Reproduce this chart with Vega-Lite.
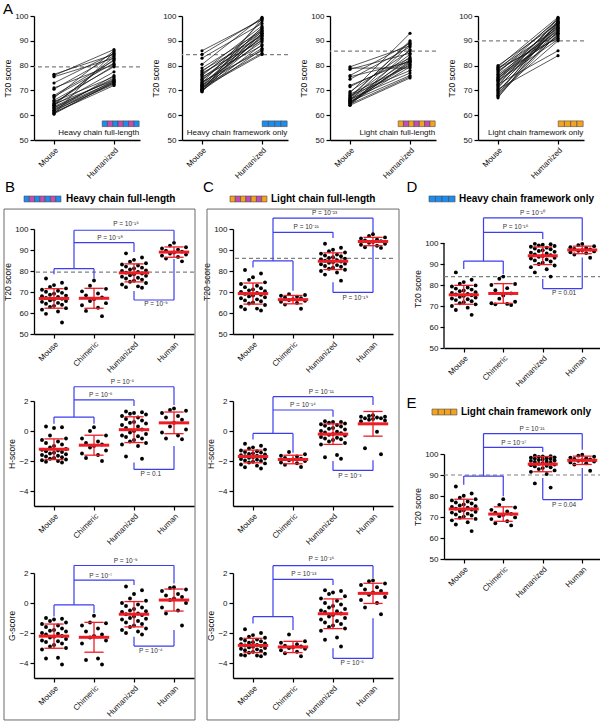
{
"$schema":"https://vega.github.io/schema/vega-lite/v6.json",
"padding":{"left":2,"top":2,"right":0,"bottom":0},
"background":"white",
"datasets":{
"ref":[{"p":"A1","y":79.5},{"p":"A2","y":84.4},{"p":"A3","y":85.8},{"p":"A4","y":90},{"p":"B1","y":79.5},{"p":"C1","y":86},{"p":"D","y":84},{"p":"E","y":90}],
"ico":[{"c":"HF","i":0,"k":"HFR"},{"c":"HF","i":1,"k":"CDR"},{"c":"HF","i":2,"k":"HFR"},{"c":"HF","i":3,"k":"CDR"},{"c":"HF","i":4,"k":"HFR"},{"c":"HF","i":5,"k":"CDR"},{"c":"HF","i":6,"k":"HFR"},
{"c":"LF","i":0,"k":"LFR"},{"c":"LF","i":1,"k":"CDR"},{"c":"LF","i":2,"k":"LFR"},{"c":"LF","i":3,"k":"CDR"},{"c":"LF","i":4,"k":"LFR"},{"c":"LF","i":5,"k":"CDR"},{"c":"LF","i":6,"k":"LFR"},
{"c":"HO","i":0,"k":"HFR"},{"c":"HO","i":1,"k":"HFR"},{"c":"HO","i":2,"k":"HFR"},{"c":"HO","i":3,"k":"HFR"},
{"c":"LO","i":0,"k":"LFR"},{"c":"LO","i":1,"k":"LFR"},{"c":"LO","i":2,"k":"LFR"},{"c":"LO","i":3,"k":"LFR"}],
"br":[
{"p":"B1","x":1,"x2":2,"y":81.1,"y2":81.1},{"p":"B1","x":1,"x2":1,"y":81.1,"y2":78.4},{"p":"B1","x":2,"x2":2,"y":81.1,"y2":76.5},{"p":"B1","x":1.5,"x2":1.5,"y":81.1,"y2":99.4},{"p":"B1","x":1.5,"x2":3,"y":93.5,"y2":93.5},{"p":"B1","x":3,"x2":3,"y":93.5,"y2":89},{"p":"B1","x":1.5,"x2":4,"y":99.4,"y2":99.4},{"p":"B1","x":4,"x2":4,"y":99.4,"y2":94.3},{"p":"B1","x":3,"x2":4,"y":66.2,"y2":66.2},{"p":"B1","x":3,"x2":3,"y":66.2,"y2":70.5},{"p":"B1","x":4,"x2":4,"y":66.2,"y2":85.7},
{"p":"B2","x":1,"x2":2,"y":0.93,"y2":0.93},{"p":"B2","x":1,"x2":1,"y":0.93,"y2":0.49},{"p":"B2","x":2,"x2":2,"y":0.93,"y2":0.49},{"p":"B2","x":1.5,"x2":1.5,"y":0.93,"y2":2.95},{"p":"B2","x":1.5,"x2":3,"y":2.07,"y2":2.07},{"p":"B2","x":3,"x2":3,"y":2.07,"y2":1.67},{"p":"B2","x":1.5,"x2":4,"y":2.95,"y2":2.95},{"p":"B2","x":4,"x2":4,"y":2.95,"y2":1.73},{"p":"B2","x":3,"x2":4,"y":-2.56,"y2":-2.56},{"p":"B2","x":3,"x2":3,"y":-2.56,"y2":-2.1},{"p":"B2","x":4,"x2":4,"y":-2.56,"y2":-1.0},
{"p":"B3","x":1,"x2":2,"y":-0.13,"y2":-0.13},{"p":"B3","x":1,"x2":1,"y":-0.13,"y2":-0.9},{"p":"B3","x":2,"x2":2,"y":-0.13,"y2":-0.67},{"p":"B3","x":1.5,"x2":1.5,"y":-0.13,"y2":2.5},{"p":"B3","x":1.5,"x2":3,"y":1.53,"y2":1.53},{"p":"B3","x":3,"x2":3,"y":1.53,"y2":1.2},{"p":"B3","x":1.5,"x2":4,"y":2.5,"y2":2.5},{"p":"B3","x":4,"x2":4,"y":2.5,"y2":1.3},{"p":"B3","x":3,"x2":4,"y":-2.87,"y2":-2.87},{"p":"B3","x":3,"x2":3,"y":-2.87,"y2":-2.25},{"p":"B3","x":4,"x2":4,"y":-2.87,"y2":-1.8},
{"p":"C1","x":1,"x2":2,"y":84.8,"y2":84.8},{"p":"C1","x":1,"x2":1,"y":84.8,"y2":81.7},{"p":"C1","x":2,"x2":2,"y":84.8,"y2":70.6},{"p":"C1","x":1.5,"x2":1.5,"y":84.8,"y2":105.2},{"p":"C1","x":1.5,"x2":3,"y":98.4,"y2":98.4},{"p":"C1","x":3,"x2":3,"y":98.4,"y2":95.7},{"p":"C1","x":1.5,"x2":4,"y":105.2,"y2":105.2},{"p":"C1","x":4,"x2":4,"y":105.2,"y2":96.8},{"p":"C1","x":3,"x2":4,"y":69.8,"y2":69.8},{"p":"C1","x":3,"x2":3,"y":69.8,"y2":74.6},{"p":"C1","x":4,"x2":4,"y":69.8,"y2":92},
{"p":"C2","x":1,"x2":2,"y":-0.16,"y2":-0.16},{"p":"C2","x":1,"x2":1,"y":-0.16,"y2":-0.56},{"p":"C2","x":2,"x2":2,"y":-0.16,"y2":-1.45},{"p":"C2","x":1.5,"x2":1.5,"y":-0.16,"y2":2.29},{"p":"C2","x":1.5,"x2":3,"y":1.4,"y2":1.4},{"p":"C2","x":3,"x2":3,"y":1.4,"y2":0.95},{"p":"C2","x":1.5,"x2":4,"y":2.29,"y2":2.29},{"p":"C2","x":4,"x2":4,"y":2.29,"y2":1.73},{"p":"C2","x":3,"x2":4,"y":-2.63,"y2":-2.63},{"p":"C2","x":3,"x2":3,"y":-2.63,"y2":-2.0},{"p":"C2","x":4,"x2":4,"y":-2.63,"y2":-1.95},
{"p":"C3","x":1,"x2":2,"y":-0.91,"y2":-0.91},{"p":"C3","x":1,"x2":1,"y":-0.91,"y2":-1.36},{"p":"C3","x":2,"x2":2,"y":-0.91,"y2":-1.8},{"p":"C3","x":1.5,"x2":1.5,"y":-0.91,"y2":2.49},{"p":"C3","x":1.5,"x2":3,"y":1.58,"y2":1.58},{"p":"C3","x":3,"x2":3,"y":1.58,"y2":1.2},{"p":"C3","x":1.5,"x2":4,"y":2.49,"y2":2.49},{"p":"C3","x":4,"x2":4,"y":2.49,"y2":1.65},{"p":"C3","x":3,"x2":4,"y":-3.69,"y2":-3.69},{"p":"C3","x":3,"x2":3,"y":-3.69,"y2":-3.02},{"p":"C3","x":4,"x2":4,"y":-3.69,"y2":-1.02},
{"p":"D","x":1,"x2":2,"y":91.4,"y2":91.4},{"p":"D","x":1,"x2":1,"y":91.4,"y2":87.6},{"p":"D","x":2,"x2":2,"y":91.4,"y2":85.2},{"p":"D","x":1.5,"x2":1.5,"y":91.4,"y2":112},{"p":"D","x":1.5,"x2":3,"y":105.1,"y2":105.1},{"p":"D","x":3,"x2":3,"y":105.1,"y2":101.9},{"p":"D","x":1.5,"x2":4,"y":112,"y2":112},{"p":"D","x":4,"x2":4,"y":112,"y2":101.1},{"p":"D","x":3,"x2":4,"y":78.3,"y2":78.3},{"p":"D","x":3,"x2":3,"y":78.3,"y2":82.8},{"p":"D","x":4,"x2":4,"y":78.3,"y2":93.1},
{"p":"E","x":1,"x2":2,"y":89.5,"y2":89.5},{"p":"E","x":1,"x2":1,"y":89.5,"y2":85.4},{"p":"E","x":2,"x2":2,"y":89.5,"y2":79.9},{"p":"E","x":1.5,"x2":1.5,"y":89.5,"y2":109.7},{"p":"E","x":1.5,"x2":3,"y":103.2,"y2":103.2},{"p":"E","x":3,"x2":3,"y":103.2,"y2":101},{"p":"E","x":1.5,"x2":4,"y":109.7,"y2":109.7},{"p":"E","x":4,"x2":4,"y":109.7,"y2":102},{"p":"E","x":3,"x2":4,"y":78.3,"y2":78.3},{"p":"E","x":3,"x2":3,"y":78.3,"y2":88.6},{"p":"E","x":4,"x2":4,"y":78.3,"y2":93.3}],
"pl":[
{"p":"B1","x":2.4,"y":95.6,"t":"P = 10⁻¹⁸"},{"p":"B1","x":2.8,"y":102.2,"t":"P = 10⁻¹⁵"},{"p":"B1","x":3.55,"y":64.1,"t":"P = 10⁻⁹"},
{"p":"B2","x":2.17,"y":2.4,"t":"P = 10⁻⁵"},{"p":"B2","x":2.71,"y":3.29,"t":"P = 10⁻⁶"},{"p":"B2","x":3.42,"y":-2.89,"t":"P = 0.1"},
{"p":"B3","x":2.17,"y":1.8,"t":"P = 10⁻⁷"},{"p":"B3","x":2.79,"y":2.8,"t":"P = 10⁻⁹"},{"p":"B3","x":3.42,"y":-3.2,"t":"P = 10⁻⁴"},
{"p":"C1","x":2.33,"y":101.1,"t":"P = 10⁻²¹"},{"p":"C1","x":2.79,"y":107.4,"t":"P = 10⁻²³"},{"p":"C1","x":3.56,"y":67.1,"t":"P = 10⁻¹⁹"},
{"p":"C2","x":2.25,"y":1.73,"t":"P = 10⁻¹⁴"},{"p":"C2","x":2.71,"y":2.62,"t":"P = 10⁻¹¹"},{"p":"C2","x":3.42,"y":-3.0,"t":"P = 10⁻³"},
{"p":"C3","x":2.27,"y":1.91,"t":"P = 10⁻¹³"},{"p":"C3","x":2.71,"y":2.91,"t":"P = 10⁻¹⁶"},{"p":"C3","x":3.48,"y":-4.02,"t":"P = 10⁻⁵"},
{"p":"D","x":2.31,"y":107.5,"t":"P = 10⁻¹⁶"},{"p":"D","x":2.74,"y":114.2,"t":"P = 10⁻¹⁰"},{"p":"D","x":3.54,"y":76.1,"t":"P = 0.01"},
{"p":"E","x":2.27,"y":105.2,"t":"P = 10⁻²⁷"},{"p":"E","x":2.73,"y":111.9,"t":"P = 10⁻²¹"},{"p":"E","x":3.54,"y":75.9,"t":"P = 0.04"}],
"pairs":[
{"p":"A1","id":1,"g":"Mouse","v":76.5},{"p":"A1","id":1,"g":"Humanized","v":84.5},
{"p":"A1","id":2,"g":"Mouse","v":76},{"p":"A1","id":2,"g":"Humanized","v":86.5},
{"p":"A1","id":3,"g":"Mouse","v":75.5},{"p":"A1","id":3,"g":"Humanized","v":83},
{"p":"A1","id":4,"g":"Mouse","v":73},{"p":"A1","id":4,"g":"Humanized","v":85},
{"p":"A1","id":5,"g":"Mouse","v":71},{"p":"A1","id":5,"g":"Humanized","v":80.5},
{"p":"A1","id":6,"g":"Mouse","v":70.5},{"p":"A1","id":6,"g":"Humanized","v":84},
{"p":"A1","id":7,"g":"Mouse","v":68},{"p":"A1","id":7,"g":"Humanized","v":82},
{"p":"A1","id":8,"g":"Mouse","v":67.5},{"p":"A1","id":8,"g":"Humanized","v":81},
{"p":"A1","id":9,"g":"Mouse","v":67},{"p":"A1","id":9,"g":"Humanized","v":86},
{"p":"A1","id":10,"g":"Mouse","v":66},{"p":"A1","id":10,"g":"Humanized","v":79.5},
{"p":"A1","id":11,"g":"Mouse","v":65.5},{"p":"A1","id":11,"g":"Humanized","v":75.5},
{"p":"A1","id":12,"g":"Mouse","v":65},{"p":"A1","id":12,"g":"Humanized","v":80},
{"p":"A1","id":13,"g":"Mouse","v":64.5},{"p":"A1","id":13,"g":"Humanized","v":74},
{"p":"A1","id":14,"g":"Mouse","v":64},{"p":"A1","id":14,"g":"Humanized","v":83.5},
{"p":"A1","id":15,"g":"Mouse","v":64},{"p":"A1","id":15,"g":"Humanized","v":77.5},
{"p":"A1","id":16,"g":"Mouse","v":63.5},{"p":"A1","id":16,"g":"Humanized","v":74.5},
{"p":"A1","id":17,"g":"Mouse","v":63},{"p":"A1","id":17,"g":"Humanized","v":73.5},
{"p":"A1","id":18,"g":"Mouse","v":63},{"p":"A1","id":18,"g":"Humanized","v":75},
{"p":"A1","id":19,"g":"Mouse","v":62.5},{"p":"A1","id":19,"g":"Humanized","v":73},
{"p":"A1","id":20,"g":"Mouse","v":62},{"p":"A1","id":20,"g":"Humanized","v":76},
{"p":"A1","id":21,"g":"Mouse","v":62},{"p":"A1","id":21,"g":"Humanized","v":72.5},
{"p":"A1","id":22,"g":"Mouse","v":61.5},{"p":"A1","id":22,"g":"Humanized","v":74},
{"p":"A1","id":23,"g":"Mouse","v":61},{"p":"A1","id":23,"g":"Humanized","v":73},
{"p":"A1","id":24,"g":"Mouse","v":61},{"p":"A1","id":24,"g":"Humanized","v":72},
{"p":"A1","id":25,"g":"Mouse","v":60.5},{"p":"A1","id":25,"g":"Humanized","v":85.5},
{"p":"A1","id":26,"g":"Mouse","v":60.5},{"p":"A1","id":26,"g":"Humanized","v":73.5},
{"p":"A1","id":27,"g":"Mouse","v":64.5},{"p":"A1","id":27,"g":"Humanized","v":82.5},
{"p":"A2","id":1,"g":"Mouse","v":86},{"p":"A2","id":1,"g":"Humanized","v":98.5},
{"p":"A2","id":2,"g":"Mouse","v":84.5},{"p":"A2","id":2,"g":"Humanized","v":99},
{"p":"A2","id":3,"g":"Mouse","v":83},{"p":"A2","id":3,"g":"Humanized","v":97},
{"p":"A2","id":4,"g":"Mouse","v":80.5},{"p":"A2","id":4,"g":"Humanized","v":99.5},
{"p":"A2","id":5,"g":"Mouse","v":79},{"p":"A2","id":5,"g":"Humanized","v":94},
{"p":"A2","id":6,"g":"Mouse","v":78},{"p":"A2","id":6,"g":"Humanized","v":92},
{"p":"A2","id":7,"g":"Mouse","v":77.5},{"p":"A2","id":7,"g":"Humanized","v":96},
{"p":"A2","id":8,"g":"Mouse","v":77},{"p":"A2","id":8,"g":"Humanized","v":90},
{"p":"A2","id":9,"g":"Mouse","v":76.5},{"p":"A2","id":9,"g":"Humanized","v":93.5},
{"p":"A2","id":10,"g":"Mouse","v":76},{"p":"A2","id":10,"g":"Humanized","v":95},
{"p":"A2","id":11,"g":"Mouse","v":75.5},{"p":"A2","id":11,"g":"Humanized","v":88},
{"p":"A2","id":12,"g":"Mouse","v":75},{"p":"A2","id":12,"g":"Humanized","v":92.5},
{"p":"A2","id":13,"g":"Mouse","v":74.5},{"p":"A2","id":13,"g":"Humanized","v":91},
{"p":"A2","id":14,"g":"Mouse","v":74},{"p":"A2","id":14,"g":"Humanized","v":94.5},
{"p":"A2","id":15,"g":"Mouse","v":73.5},{"p":"A2","id":15,"g":"Humanized","v":86},
{"p":"A2","id":16,"g":"Mouse","v":73},{"p":"A2","id":16,"g":"Humanized","v":89.5},
{"p":"A2","id":17,"g":"Mouse","v":73},{"p":"A2","id":17,"g":"Humanized","v":98},
{"p":"A2","id":18,"g":"Mouse","v":72.5},{"p":"A2","id":18,"g":"Humanized","v":93},
{"p":"A2","id":19,"g":"Mouse","v":72},{"p":"A2","id":19,"g":"Humanized","v":87},
{"p":"A2","id":20,"g":"Mouse","v":72},{"p":"A2","id":20,"g":"Humanized","v":91.5},
{"p":"A2","id":21,"g":"Mouse","v":71.5},{"p":"A2","id":21,"g":"Humanized","v":85},
{"p":"A2","id":22,"g":"Mouse","v":71.5},{"p":"A2","id":22,"g":"Humanized","v":95.5},
{"p":"A2","id":23,"g":"Mouse","v":71},{"p":"A2","id":23,"g":"Humanized","v":92},
{"p":"A2","id":24,"g":"Mouse","v":71},{"p":"A2","id":24,"g":"Humanized","v":84.5},
{"p":"A2","id":25,"g":"Mouse","v":70.5},{"p":"A2","id":25,"g":"Humanized","v":90.5},
{"p":"A2","id":26,"g":"Mouse","v":70.5},{"p":"A2","id":26,"g":"Humanized","v":94},
{"p":"A2","id":27,"g":"Mouse","v":70},{"p":"A2","id":27,"g":"Humanized","v":88.5},
{"p":"A2","id":28,"g":"Mouse","v":70},{"p":"A2","id":28,"g":"Humanized","v":86.5},
{"p":"A2","id":29,"g":"Mouse","v":69.5},{"p":"A2","id":29,"g":"Humanized","v":99},
{"p":"A2","id":30,"g":"Mouse","v":69.5},{"p":"A2","id":30,"g":"Humanized","v":93},
{"p":"A3","id":1,"g":"Mouse","v":79.5},{"p":"A3","id":1,"g":"Humanized","v":88},
{"p":"A3","id":2,"g":"Mouse","v":79},{"p":"A3","id":2,"g":"Humanized","v":79},
{"p":"A3","id":3,"g":"Mouse","v":78.5},{"p":"A3","id":3,"g":"Humanized","v":85},
{"p":"A3","id":4,"g":"Mouse","v":76},{"p":"A3","id":4,"g":"Humanized","v":89},
{"p":"A3","id":5,"g":"Mouse","v":75.5},{"p":"A3","id":5,"g":"Humanized","v":81.5},
{"p":"A3","id":6,"g":"Mouse","v":74.5},{"p":"A3","id":6,"g":"Humanized","v":87.5},
{"p":"A3","id":7,"g":"Mouse","v":72},{"p":"A3","id":7,"g":"Humanized","v":82},
{"p":"A3","id":8,"g":"Mouse","v":71.5},{"p":"A3","id":8,"g":"Humanized","v":83},
{"p":"A3","id":9,"g":"Mouse","v":69.5},{"p":"A3","id":9,"g":"Humanized","v":86},
{"p":"A3","id":10,"g":"Mouse","v":69},{"p":"A3","id":10,"g":"Humanized","v":93},
{"p":"A3","id":11,"g":"Mouse","v":68.5},{"p":"A3","id":11,"g":"Humanized","v":80},
{"p":"A3","id":12,"g":"Mouse","v":68},{"p":"A3","id":12,"g":"Humanized","v":78},
{"p":"A3","id":13,"g":"Mouse","v":67.5},{"p":"A3","id":13,"g":"Humanized","v":89.5},
{"p":"A3","id":14,"g":"Mouse","v":67},{"p":"A3","id":14,"g":"Humanized","v":84.5},
{"p":"A3","id":15,"g":"Mouse","v":66.5},{"p":"A3","id":15,"g":"Humanized","v":82.5},
{"p":"A3","id":16,"g":"Mouse","v":66.5},{"p":"A3","id":16,"g":"Humanized","v":77},
{"p":"A3","id":17,"g":"Mouse","v":66},{"p":"A3","id":17,"g":"Humanized","v":81},
{"p":"A3","id":18,"g":"Mouse","v":66},{"p":"A3","id":18,"g":"Humanized","v":88.5},
{"p":"A3","id":19,"g":"Mouse","v":65.5},{"p":"A3","id":19,"g":"Humanized","v":76},
{"p":"A3","id":20,"g":"Mouse","v":65.5},{"p":"A3","id":20,"g":"Humanized","v":80.5},
{"p":"A3","id":21,"g":"Mouse","v":65},{"p":"A3","id":21,"g":"Humanized","v":83.5},
{"p":"A3","id":22,"g":"Mouse","v":65},{"p":"A3","id":22,"g":"Humanized","v":79.5},
{"p":"A3","id":23,"g":"Mouse","v":64.5},{"p":"A3","id":23,"g":"Humanized","v":75.5},
{"p":"A3","id":24,"g":"Mouse","v":64.5},{"p":"A3","id":24,"g":"Humanized","v":82},
{"p":"A3","id":25,"g":"Mouse","v":64},{"p":"A3","id":25,"g":"Humanized","v":75},
{"p":"A3","id":26,"g":"Mouse","v":64},{"p":"A3","id":26,"g":"Humanized","v":86.5},
{"p":"A3","id":27,"g":"Mouse","v":65},{"p":"A3","id":27,"g":"Humanized","v":81.5},
{"p":"A3","id":28,"g":"Mouse","v":67},{"p":"A3","id":28,"g":"Humanized","v":90},
{"p":"A4","id":1,"g":"Mouse","v":80},{"p":"A4","id":1,"g":"Humanized","v":97},
{"p":"A4","id":2,"g":"Mouse","v":79.5},{"p":"A4","id":2,"g":"Humanized","v":99.5},
{"p":"A4","id":3,"g":"Mouse","v":79},{"p":"A4","id":3,"g":"Humanized","v":95},
{"p":"A4","id":4,"g":"Mouse","v":78.5},{"p":"A4","id":4,"g":"Humanized","v":98.5},
{"p":"A4","id":5,"g":"Mouse","v":78},{"p":"A4","id":5,"g":"Humanized","v":93},
{"p":"A4","id":6,"g":"Mouse","v":77.5},{"p":"A4","id":6,"g":"Humanized","v":96},
{"p":"A4","id":7,"g":"Mouse","v":77},{"p":"A4","id":7,"g":"Humanized","v":99},
{"p":"A4","id":8,"g":"Mouse","v":76.5},{"p":"A4","id":8,"g":"Humanized","v":94},
{"p":"A4","id":9,"g":"Mouse","v":76},{"p":"A4","id":9,"g":"Humanized","v":91.5},
{"p":"A4","id":10,"g":"Mouse","v":75.5},{"p":"A4","id":10,"g":"Humanized","v":97.5},
{"p":"A4","id":11,"g":"Mouse","v":75},{"p":"A4","id":11,"g":"Humanized","v":95.5},
{"p":"A4","id":12,"g":"Mouse","v":75},{"p":"A4","id":12,"g":"Humanized","v":92},
{"p":"A4","id":13,"g":"Mouse","v":74.5},{"p":"A4","id":13,"g":"Humanized","v":98},
{"p":"A4","id":14,"g":"Mouse","v":74},{"p":"A4","id":14,"g":"Humanized","v":90.5},
{"p":"A4","id":15,"g":"Mouse","v":74},{"p":"A4","id":15,"g":"Humanized","v":96.5},
{"p":"A4","id":16,"g":"Mouse","v":73.5},{"p":"A4","id":16,"g":"Humanized","v":94.5},
{"p":"A4","id":17,"g":"Mouse","v":73},{"p":"A4","id":17,"g":"Humanized","v":93.5},
{"p":"A4","id":18,"g":"Mouse","v":72.5},{"p":"A4","id":18,"g":"Humanized","v":86},
{"p":"A4","id":19,"g":"Mouse","v":72},{"p":"A4","id":19,"g":"Humanized","v":99},
{"p":"A4","id":20,"g":"Mouse","v":71.5},{"p":"A4","id":20,"g":"Humanized","v":95},
{"p":"A4","id":21,"g":"Mouse","v":71},{"p":"A4","id":21,"g":"Humanized","v":97},
{"p":"A4","id":22,"g":"Mouse","v":70.5},{"p":"A4","id":22,"g":"Humanized","v":84},
{"p":"A4","id":23,"g":"Mouse","v":70},{"p":"A4","id":23,"g":"Humanized","v":92.5},
{"p":"A4","id":24,"g":"Mouse","v":69.5},{"p":"A4","id":24,"g":"Humanized","v":96},
{"p":"A4","id":25,"g":"Mouse","v":69},{"p":"A4","id":25,"g":"Humanized","v":90},
{"p":"A4","id":26,"g":"Mouse","v":68.5},{"p":"A4","id":26,"g":"Humanized","v":98},
{"p":"A4","id":27,"g":"Mouse","v":68},{"p":"A4","id":27,"g":"Humanized","v":94},
{"p":"A4","id":28,"g":"Mouse","v":67.5},{"p":"A4","id":28,"g":"Humanized","v":93},
{"p":"A4","id":29,"g":"Mouse","v":67},{"p":"A4","id":29,"g":"Humanized","v":97.5},
{"p":"A4","id":30,"g":"Mouse","v":79},{"p":"A4","id":30,"g":"Humanized","v":91}],
"pts":[
{"p":"B1","g":"Mouse","v":55.5},{"p":"B1","g":"Mouse","v":59.6},{"p":"B1","g":"Mouse","v":60.7},{"p":"B1","g":"Mouse","v":61.6},{"p":"B1","g":"Mouse","v":62.3},{"p":"B1","g":"Mouse","v":62.9},{"p":"B1","g":"Mouse","v":63.4},{"p":"B1","g":"Mouse","v":63.9},{"p":"B1","g":"Mouse","v":64.4},{"p":"B1","g":"Mouse","v":64.8},{"p":"B1","g":"Mouse","v":65.3},{"p":"B1","g":"Mouse","v":65.7},{"p":"B1","g":"Mouse","v":66.0},{"p":"B1","g":"Mouse","v":66.4},{"p":"B1","g":"Mouse","v":66.8},{"p":"B1","g":"Mouse","v":67.2},{"p":"B1","g":"Mouse","v":67.6},{"p":"B1","g":"Mouse","v":68.0},{"p":"B1","g":"Mouse","v":68.3},{"p":"B1","g":"Mouse","v":68.7},{"p":"B1","g":"Mouse","v":69.2},{"p":"B1","g":"Mouse","v":69.6},{"p":"B1","g":"Mouse","v":70.1},{"p":"B1","g":"Mouse","v":70.6},{"p":"B1","g":"Mouse","v":71.1},{"p":"B1","g":"Mouse","v":71.7},{"p":"B1","g":"Mouse","v":72.4},{"p":"B1","g":"Mouse","v":73.3},{"p":"B1","g":"Mouse","v":74.4},{"p":"B1","g":"Mouse","v":76.4},
{"p":"B1","g":"Chimeric","v":58.5},{"p":"B1","g":"Chimeric","v":61.0},{"p":"B1","g":"Chimeric","v":62.5},{"p":"B1","g":"Chimeric","v":63.7},{"p":"B1","g":"Chimeric","v":64.7},{"p":"B1","g":"Chimeric","v":65.7},{"p":"B1","g":"Chimeric","v":66.6},{"p":"B1","g":"Chimeric","v":67.4},{"p":"B1","g":"Chimeric","v":68.4},{"p":"B1","g":"Chimeric","v":69.3},{"p":"B1","g":"Chimeric","v":70.3},{"p":"B1","g":"Chimeric","v":71.5},{"p":"B1","g":"Chimeric","v":73.0},{"p":"B1","g":"Chimeric","v":75.5},
{"p":"B1","g":"Humanized","v":72.0},{"p":"B1","g":"Humanized","v":72.3},{"p":"B1","g":"Humanized","v":72.7},{"p":"B1","g":"Humanized","v":73.6},{"p":"B1","g":"Humanized","v":74.3},{"p":"B1","g":"Humanized","v":74.9},{"p":"B1","g":"Humanized","v":75.4},{"p":"B1","g":"Humanized","v":75.9},{"p":"B1","g":"Humanized","v":76.4},{"p":"B1","g":"Humanized","v":76.8},{"p":"B1","g":"Humanized","v":77.3},{"p":"B1","g":"Humanized","v":77.7},{"p":"B1","g":"Humanized","v":78.0},{"p":"B1","g":"Humanized","v":78.4},{"p":"B1","g":"Humanized","v":78.8},{"p":"B1","g":"Humanized","v":79.2},{"p":"B1","g":"Humanized","v":79.6},{"p":"B1","g":"Humanized","v":80.0},{"p":"B1","g":"Humanized","v":80.3},{"p":"B1","g":"Humanized","v":80.7},{"p":"B1","g":"Humanized","v":81.2},{"p":"B1","g":"Humanized","v":81.6},{"p":"B1","g":"Humanized","v":82.1},{"p":"B1","g":"Humanized","v":82.6},{"p":"B1","g":"Humanized","v":83.1},{"p":"B1","g":"Humanized","v":83.7},{"p":"B1","g":"Humanized","v":84.4},{"p":"B1","g":"Humanized","v":85.3},{"p":"B1","g":"Humanized","v":86.4},{"p":"B1","g":"Humanized","v":88.4},
{"p":"B1","g":"Human","v":84.6},{"p":"B1","g":"Human","v":85.9},{"p":"B1","g":"Human","v":86.7},{"p":"B1","g":"Human","v":87.3},{"p":"B1","g":"Human","v":87.8},{"p":"B1","g":"Human","v":88.3},{"p":"B1","g":"Human","v":88.8},{"p":"B1","g":"Human","v":89.2},{"p":"B1","g":"Human","v":89.7},{"p":"B1","g":"Human","v":90.2},{"p":"B1","g":"Human","v":90.7},{"p":"B1","g":"Human","v":91.3},{"p":"B1","g":"Human","v":92.1},{"p":"B1","g":"Human","v":93.4},
{"p":"B2","g":"Mouse","v":-2.1},{"p":"B2","g":"Mouse","v":-2.05},{"p":"B2","g":"Mouse","v":-2.0},{"p":"B2","g":"Mouse","v":-1.95},{"p":"B2","g":"Mouse","v":-1.9},{"p":"B2","g":"Mouse","v":-1.85},{"p":"B2","g":"Mouse","v":-1.8},{"p":"B2","g":"Mouse","v":-1.75},{"p":"B2","g":"Mouse","v":-1.7},{"p":"B2","g":"Mouse","v":-1.65},{"p":"B2","g":"Mouse","v":-1.6},{"p":"B2","g":"Mouse","v":-1.55},{"p":"B2","g":"Mouse","v":-1.5},{"p":"B2","g":"Mouse","v":-1.45},{"p":"B2","g":"Mouse","v":-1.4},{"p":"B2","g":"Mouse","v":-1.35},{"p":"B2","g":"Mouse","v":-1.3},{"p":"B2","g":"Mouse","v":-1.25},{"p":"B2","g":"Mouse","v":-1.2},{"p":"B2","g":"Mouse","v":-1.1},{"p":"B2","g":"Mouse","v":-1.0},{"p":"B2","g":"Mouse","v":-0.9},{"p":"B2","g":"Mouse","v":-0.8},{"p":"B2","g":"Mouse","v":-0.7},{"p":"B2","g":"Mouse","v":-0.6},{"p":"B2","g":"Mouse","v":-0.5},{"p":"B2","g":"Mouse","v":-0.3},{"p":"B2","g":"Mouse","v":0.2},{"p":"B2","g":"Mouse","v":0.25},{"p":"B2","g":"Mouse","v":0.3},
{"p":"B2","g":"Chimeric","v":0.25},{"p":"B2","g":"Chimeric","v":0},{"p":"B2","g":"Chimeric","v":-0.3},{"p":"B2","g":"Chimeric","v":-0.5},{"p":"B2","g":"Chimeric","v":-0.7},{"p":"B2","g":"Chimeric","v":-0.8},{"p":"B2","g":"Chimeric","v":-0.9},{"p":"B2","g":"Chimeric","v":-1.0},{"p":"B2","g":"Chimeric","v":-1.1},{"p":"B2","g":"Chimeric","v":-1.3},{"p":"B2","g":"Chimeric","v":-1.5},{"p":"B2","g":"Chimeric","v":-1.6},{"p":"B2","g":"Chimeric","v":-1.8},{"p":"B2","g":"Chimeric","v":-2.0},
{"p":"B2","g":"Humanized","v":1.3},{"p":"B2","g":"Humanized","v":1.25},{"p":"B2","g":"Humanized","v":1.2},{"p":"B2","g":"Humanized","v":1.15},{"p":"B2","g":"Humanized","v":1.1},{"p":"B2","g":"Humanized","v":1.0},{"p":"B2","g":"Humanized","v":0.9},{"p":"B2","g":"Humanized","v":0.8},{"p":"B2","g":"Humanized","v":0.7},{"p":"B2","g":"Humanized","v":0.6},{"p":"B2","g":"Humanized","v":0.55},{"p":"B2","g":"Humanized","v":0.5},{"p":"B2","g":"Humanized","v":0.4},{"p":"B2","g":"Humanized","v":0.3},{"p":"B2","g":"Humanized","v":0.2},{"p":"B2","g":"Humanized","v":0.1},{"p":"B2","g":"Humanized","v":0.0},{"p":"B2","g":"Humanized","v":-0.1},{"p":"B2","g":"Humanized","v":-0.2},{"p":"B2","g":"Humanized","v":-0.3},{"p":"B2","g":"Humanized","v":-0.35},{"p":"B2","g":"Humanized","v":-0.4},{"p":"B2","g":"Humanized","v":-0.5},{"p":"B2","g":"Humanized","v":-0.6},{"p":"B2","g":"Humanized","v":-0.7},{"p":"B2","g":"Humanized","v":-0.8},{"p":"B2","g":"Humanized","v":-0.9},{"p":"B2","g":"Humanized","v":-1.0},{"p":"B2","g":"Humanized","v":-1.7},{"p":"B2","g":"Humanized","v":-1.85},
{"p":"B2","g":"Human","v":1.5},{"p":"B2","g":"Human","v":1.4},{"p":"B2","g":"Human","v":1.35},{"p":"B2","g":"Human","v":1.2},{"p":"B2","g":"Human","v":1.0},{"p":"B2","g":"Human","v":0.9},{"p":"B2","g":"Human","v":0.75},{"p":"B2","g":"Human","v":0.55},{"p":"B2","g":"Human","v":0.3},{"p":"B2","g":"Human","v":0.1},{"p":"B2","g":"Human","v":-0.1},{"p":"B2","g":"Human","v":-0.3},{"p":"B2","g":"Human","v":-0.5},{"p":"B2","g":"Human","v":-0.55},
{"p":"B3","g":"Mouse","v":-1.0},{"p":"B3","g":"Mouse","v":-1.05},{"p":"B3","g":"Mouse","v":-1.1},{"p":"B3","g":"Mouse","v":-1.2},{"p":"B3","g":"Mouse","v":-1.3},{"p":"B3","g":"Mouse","v":-1.4},{"p":"B3","g":"Mouse","v":-1.5},{"p":"B3","g":"Mouse","v":-1.6},{"p":"B3","g":"Mouse","v":-1.7},{"p":"B3","g":"Mouse","v":-1.8},{"p":"B3","g":"Mouse","v":-1.85},{"p":"B3","g":"Mouse","v":-1.9},{"p":"B3","g":"Mouse","v":-2.0},{"p":"B3","g":"Mouse","v":-2.05},{"p":"B3","g":"Mouse","v":-2.1},{"p":"B3","g":"Mouse","v":-2.2},{"p":"B3","g":"Mouse","v":-2.25},{"p":"B3","g":"Mouse","v":-2.3},{"p":"B3","g":"Mouse","v":-2.4},{"p":"B3","g":"Mouse","v":-2.5},{"p":"B3","g":"Mouse","v":-2.55},{"p":"B3","g":"Mouse","v":-2.6},{"p":"B3","g":"Mouse","v":-2.7},{"p":"B3","g":"Mouse","v":-2.8},{"p":"B3","g":"Mouse","v":-2.9},{"p":"B3","g":"Mouse","v":-3.0},{"p":"B3","g":"Mouse","v":-3.1},{"p":"B3","g":"Mouse","v":-3.65},{"p":"B3","g":"Mouse","v":-3.7},{"p":"B3","g":"Mouse","v":-4.1},
{"p":"B3","g":"Chimeric","v":-0.85},{"p":"B3","g":"Chimeric","v":-1.3},{"p":"B3","g":"Chimeric","v":-1.35},{"p":"B3","g":"Chimeric","v":-1.5},{"p":"B3","g":"Chimeric","v":-1.7},{"p":"B3","g":"Chimeric","v":-1.9},{"p":"B3","g":"Chimeric","v":-2.1},{"p":"B3","g":"Chimeric","v":-2.2},{"p":"B3","g":"Chimeric","v":-2.3},{"p":"B3","g":"Chimeric","v":-2.5},{"p":"B3","g":"Chimeric","v":-2.7},{"p":"B3","g":"Chimeric","v":-3.7},{"p":"B3","g":"Chimeric","v":-3.8},{"p":"B3","g":"Chimeric","v":-4.1},
{"p":"B3","g":"Humanized","v":1.1},{"p":"B3","g":"Humanized","v":0.85},{"p":"B3","g":"Humanized","v":0.6},{"p":"B3","g":"Humanized","v":0.3},{"p":"B3","g":"Humanized","v":0.15},{"p":"B3","g":"Humanized","v":0.0},{"p":"B3","g":"Humanized","v":-0.1},{"p":"B3","g":"Humanized","v":-0.2},{"p":"B3","g":"Humanized","v":-0.3},{"p":"B3","g":"Humanized","v":-0.4},{"p":"B3","g":"Humanized","v":-0.5},{"p":"B3","g":"Humanized","v":-0.55},{"p":"B3","g":"Humanized","v":-0.6},{"p":"B3","g":"Humanized","v":-0.7},{"p":"B3","g":"Humanized","v":-0.75},{"p":"B3","g":"Humanized","v":-0.8},{"p":"B3","g":"Humanized","v":-0.9},{"p":"B3","g":"Humanized","v":-1.0},{"p":"B3","g":"Humanized","v":-1.05},{"p":"B3","g":"Humanized","v":-1.1},{"p":"B3","g":"Humanized","v":-1.2},{"p":"B3","g":"Humanized","v":-1.3},{"p":"B3","g":"Humanized","v":-1.4},{"p":"B3","g":"Humanized","v":-1.5},{"p":"B3","g":"Humanized","v":-1.6},{"p":"B3","g":"Humanized","v":-1.7},{"p":"B3","g":"Humanized","v":-1.8},{"p":"B3","g":"Humanized","v":-1.9},{"p":"B3","g":"Humanized","v":-2.0},{"p":"B3","g":"Humanized","v":-2.1},
{"p":"B3","g":"Human","v":1.05},{"p":"B3","g":"Human","v":1.0},{"p":"B3","g":"Human","v":0.9},{"p":"B3","g":"Human","v":0.8},{"p":"B3","g":"Human","v":0.6},{"p":"B3","g":"Human","v":0.5},{"p":"B3","g":"Human","v":0.4},{"p":"B3","g":"Human","v":0.3},{"p":"B3","g":"Human","v":0.2},{"p":"B3","g":"Human","v":0.0},{"p":"B3","g":"Human","v":-0.3},{"p":"B3","g":"Human","v":-0.5},{"p":"B3","g":"Human","v":-0.7},{"p":"B3","g":"Human","v":-1.5},
{"p":"C1","g":"Mouse","v":61.2},{"p":"C1","g":"Mouse","v":61.8},{"p":"C1","g":"Mouse","v":62.1},{"p":"C1","g":"Mouse","v":63.0},{"p":"C1","g":"Mouse","v":63.8},{"p":"C1","g":"Mouse","v":64.5},{"p":"C1","g":"Mouse","v":65.0},{"p":"C1","g":"Mouse","v":65.6},{"p":"C1","g":"Mouse","v":66.0},{"p":"C1","g":"Mouse","v":66.5},{"p":"C1","g":"Mouse","v":67.0},{"p":"C1","g":"Mouse","v":67.5},{"p":"C1","g":"Mouse","v":67.9},{"p":"C1","g":"Mouse","v":68.3},{"p":"C1","g":"Mouse","v":68.7},{"p":"C1","g":"Mouse","v":69.1},{"p":"C1","g":"Mouse","v":69.5},{"p":"C1","g":"Mouse","v":70.0},{"p":"C1","g":"Mouse","v":70.4},{"p":"C1","g":"Mouse","v":70.8},{"p":"C1","g":"Mouse","v":71.2},{"p":"C1","g":"Mouse","v":71.8},{"p":"C1","g":"Mouse","v":72.3},{"p":"C1","g":"Mouse","v":73.0},{"p":"C1","g":"Mouse","v":73.8},{"p":"C1","g":"Mouse","v":74.6},{"p":"C1","g":"Mouse","v":75.8},{"p":"C1","g":"Mouse","v":77.0},{"p":"C1","g":"Mouse","v":78.8},{"p":"C1","g":"Mouse","v":80.5},
{"p":"C1","g":"Chimeric","v":62.0},{"p":"C1","g":"Chimeric","v":64.0},{"p":"C1","g":"Chimeric","v":64.8},{"p":"C1","g":"Chimeric","v":65.3},{"p":"C1","g":"Chimeric","v":65.8},{"p":"C1","g":"Chimeric","v":66.2},{"p":"C1","g":"Chimeric","v":66.6},{"p":"C1","g":"Chimeric","v":67.0},{"p":"C1","g":"Chimeric","v":67.4},{"p":"C1","g":"Chimeric","v":67.8},{"p":"C1","g":"Chimeric","v":68.2},{"p":"C1","g":"Chimeric","v":68.6},{"p":"C1","g":"Chimeric","v":69.0},
{"p":"C1","g":"Humanized","v":75.4},{"p":"C1","g":"Humanized","v":78.3},{"p":"C1","g":"Humanized","v":79.3},{"p":"C1","g":"Humanized","v":80.0},{"p":"C1","g":"Humanized","v":80.6},{"p":"C1","g":"Humanized","v":81.1},{"p":"C1","g":"Humanized","v":81.6},{"p":"C1","g":"Humanized","v":82.0},{"p":"C1","g":"Humanized","v":82.4},{"p":"C1","g":"Humanized","v":82.8},{"p":"C1","g":"Humanized","v":83.2},{"p":"C1","g":"Humanized","v":83.5},{"p":"C1","g":"Humanized","v":83.9},{"p":"C1","g":"Humanized","v":84.2},{"p":"C1","g":"Humanized","v":84.5},{"p":"C1","g":"Humanized","v":84.9},{"p":"C1","g":"Humanized","v":85.2},{"p":"C1","g":"Humanized","v":85.5},{"p":"C1","g":"Humanized","v":85.9},{"p":"C1","g":"Humanized","v":86.2},{"p":"C1","g":"Humanized","v":86.6},{"p":"C1","g":"Humanized","v":87.0},{"p":"C1","g":"Humanized","v":87.4},{"p":"C1","g":"Humanized","v":87.8},{"p":"C1","g":"Humanized","v":88.3},{"p":"C1","g":"Humanized","v":88.8},{"p":"C1","g":"Humanized","v":89.4},{"p":"C1","g":"Humanized","v":90.1},{"p":"C1","g":"Humanized","v":91.1},{"p":"C1","g":"Humanized","v":93.0},
{"p":"C1","g":"Human","v":91.0},{"p":"C1","g":"Human","v":91.3},{"p":"C1","g":"Human","v":92.0},{"p":"C1","g":"Human","v":92.5},{"p":"C1","g":"Human","v":93.0},{"p":"C1","g":"Human","v":93.4},{"p":"C1","g":"Human","v":93.8},{"p":"C1","g":"Human","v":94.2},{"p":"C1","g":"Human","v":94.6},{"p":"C1","g":"Human","v":95.0},{"p":"C1","g":"Human","v":95.5},{"p":"C1","g":"Human","v":96.0},{"p":"C1","g":"Human","v":96.7},{"p":"C1","g":"Human","v":97.5},
{"p":"C2","g":"Mouse","v":-2.5},{"p":"C2","g":"Mouse","v":-2.42},{"p":"C2","g":"Mouse","v":-2.31},{"p":"C2","g":"Mouse","v":-2.23},{"p":"C2","g":"Mouse","v":-2.16},{"p":"C2","g":"Mouse","v":-2.1},{"p":"C2","g":"Mouse","v":-2.05},{"p":"C2","g":"Mouse","v":-2.0},{"p":"C2","g":"Mouse","v":-1.96},{"p":"C2","g":"Mouse","v":-1.91},{"p":"C2","g":"Mouse","v":-1.87},{"p":"C2","g":"Mouse","v":-1.83},{"p":"C2","g":"Mouse","v":-1.79},{"p":"C2","g":"Mouse","v":-1.75},{"p":"C2","g":"Mouse","v":-1.72},{"p":"C2","g":"Mouse","v":-1.68},{"p":"C2","g":"Mouse","v":-1.65},{"p":"C2","g":"Mouse","v":-1.61},{"p":"C2","g":"Mouse","v":-1.57},{"p":"C2","g":"Mouse","v":-1.53},{"p":"C2","g":"Mouse","v":-1.49},{"p":"C2","g":"Mouse","v":-1.44},{"p":"C2","g":"Mouse","v":-1.4},{"p":"C2","g":"Mouse","v":-1.35},{"p":"C2","g":"Mouse","v":-1.3},{"p":"C2","g":"Mouse","v":-1.24},{"p":"C2","g":"Mouse","v":-1.17},{"p":"C2","g":"Mouse","v":-1.09},{"p":"C2","g":"Mouse","v":-0.98},{"p":"C2","g":"Mouse","v":-0.85},
{"p":"C2","g":"Chimeric","v":-2.4},{"p":"C2","g":"Chimeric","v":-2.25},{"p":"C2","g":"Chimeric","v":-2.15},{"p":"C2","g":"Chimeric","v":-2.1},{"p":"C2","g":"Chimeric","v":-2.0},{"p":"C2","g":"Chimeric","v":-1.95},{"p":"C2","g":"Chimeric","v":-1.9},{"p":"C2","g":"Chimeric","v":-1.85},{"p":"C2","g":"Chimeric","v":-1.8},{"p":"C2","g":"Chimeric","v":-1.7},{"p":"C2","g":"Chimeric","v":-1.65},{"p":"C2","g":"Chimeric","v":-1.55},{"p":"C2","g":"Chimeric","v":-1.4},
{"p":"C2","g":"Humanized","v":0.65},{"p":"C2","g":"Humanized","v":0.6},{"p":"C2","g":"Humanized","v":0.6},{"p":"C2","g":"Humanized","v":0.55},{"p":"C2","g":"Humanized","v":0.5},{"p":"C2","g":"Humanized","v":0.45},{"p":"C2","g":"Humanized","v":0.4},{"p":"C2","g":"Humanized","v":0.35},{"p":"C2","g":"Humanized","v":0.3},{"p":"C2","g":"Humanized","v":0.2},{"p":"C2","g":"Humanized","v":0.15},{"p":"C2","g":"Humanized","v":0.1},{"p":"C2","g":"Humanized","v":0.0},{"p":"C2","g":"Humanized","v":-0.05},{"p":"C2","g":"Humanized","v":-0.1},{"p":"C2","g":"Humanized","v":-0.15},{"p":"C2","g":"Humanized","v":-0.2},{"p":"C2","g":"Humanized","v":-0.25},{"p":"C2","g":"Humanized","v":-0.3},{"p":"C2","g":"Humanized","v":-0.4},{"p":"C2","g":"Humanized","v":-0.45},{"p":"C2","g":"Humanized","v":-0.5},{"p":"C2","g":"Humanized","v":-0.55},{"p":"C2","g":"Humanized","v":-0.6},{"p":"C2","g":"Humanized","v":-0.7},{"p":"C2","g":"Humanized","v":-0.8},{"p":"C2","g":"Humanized","v":-0.9},{"p":"C2","g":"Humanized","v":-1.6},{"p":"C2","g":"Humanized","v":-1.75},{"p":"C2","g":"Humanized","v":-1.85},
{"p":"C2","g":"Human","v":1.05},{"p":"C2","g":"Human","v":1.0},{"p":"C2","g":"Human","v":0.95},{"p":"C2","g":"Human","v":0.95},{"p":"C2","g":"Human","v":0.9},{"p":"C2","g":"Human","v":0.85},{"p":"C2","g":"Human","v":0.85},{"p":"C2","g":"Human","v":0.8},{"p":"C2","g":"Human","v":0.75},{"p":"C2","g":"Human","v":0.7},{"p":"C2","g":"Human","v":0.65},{"p":"C2","g":"Human","v":-0.05},{"p":"C2","g":"Human","v":-1.15},{"p":"C2","g":"Human","v":-1.55},
{"p":"C3","g":"Mouse","v":-3.55},{"p":"C3","g":"Mouse","v":-3.5},{"p":"C3","g":"Mouse","v":-3.5},{"p":"C3","g":"Mouse","v":-3.46},{"p":"C3","g":"Mouse","v":-3.38},{"p":"C3","g":"Mouse","v":-3.31},{"p":"C3","g":"Mouse","v":-3.26},{"p":"C3","g":"Mouse","v":-3.2},{"p":"C3","g":"Mouse","v":-3.15},{"p":"C3","g":"Mouse","v":-3.09},{"p":"C3","g":"Mouse","v":-3.05},{"p":"C3","g":"Mouse","v":-3.0},{"p":"C3","g":"Mouse","v":-2.96},{"p":"C3","g":"Mouse","v":-2.91},{"p":"C3","g":"Mouse","v":-2.87},{"p":"C3","g":"Mouse","v":-2.83},{"p":"C3","g":"Mouse","v":-2.79},{"p":"C3","g":"Mouse","v":-2.74},{"p":"C3","g":"Mouse","v":-2.7},{"p":"C3","g":"Mouse","v":-2.65},{"p":"C3","g":"Mouse","v":-2.61},{"p":"C3","g":"Mouse","v":-2.55},{"p":"C3","g":"Mouse","v":-2.5},{"p":"C3","g":"Mouse","v":-2.44},{"p":"C3","g":"Mouse","v":-2.39},{"p":"C3","g":"Mouse","v":-2.32},{"p":"C3","g":"Mouse","v":-2.24},{"p":"C3","g":"Mouse","v":-2.14},{"p":"C3","g":"Mouse","v":-2.0},{"p":"C3","g":"Mouse","v":-1.75},
{"p":"C3","g":"Chimeric","v":-3.55},{"p":"C3","g":"Chimeric","v":-3.35},{"p":"C3","g":"Chimeric","v":-3.25},{"p":"C3","g":"Chimeric","v":-3.15},{"p":"C3","g":"Chimeric","v":-3.05},{"p":"C3","g":"Chimeric","v":-3.0},{"p":"C3","g":"Chimeric","v":-2.95},{"p":"C3","g":"Chimeric","v":-2.9},{"p":"C3","g":"Chimeric","v":-2.85},{"p":"C3","g":"Chimeric","v":-2.75},{"p":"C3","g":"Chimeric","v":-2.65},{"p":"C3","g":"Chimeric","v":-2.55},{"p":"C3","g":"Chimeric","v":-2.1},
{"p":"C3","g":"Humanized","v":0.85},{"p":"C3","g":"Humanized","v":0.8},{"p":"C3","g":"Humanized","v":0.7},{"p":"C3","g":"Humanized","v":0.6},{"p":"C3","g":"Humanized","v":0.45},{"p":"C3","g":"Humanized","v":0.3},{"p":"C3","g":"Humanized","v":0.15},{"p":"C3","g":"Humanized","v":0.0},{"p":"C3","g":"Humanized","v":-0.1},{"p":"C3","g":"Humanized","v":-0.2},{"p":"C3","g":"Humanized","v":-0.3},{"p":"C3","g":"Humanized","v":-0.4},{"p":"C3","g":"Humanized","v":-0.5},{"p":"C3","g":"Humanized","v":-0.55},{"p":"C3","g":"Humanized","v":-0.6},{"p":"C3","g":"Humanized","v":-0.7},{"p":"C3","g":"Humanized","v":-0.8},{"p":"C3","g":"Humanized","v":-0.9},{"p":"C3","g":"Humanized","v":-1.0},{"p":"C3","g":"Humanized","v":-1.1},{"p":"C3","g":"Humanized","v":-1.2},{"p":"C3","g":"Humanized","v":-1.3},{"p":"C3","g":"Humanized","v":-1.4},{"p":"C3","g":"Humanized","v":-1.5},{"p":"C3","g":"Humanized","v":-1.6},{"p":"C3","g":"Humanized","v":-1.7},{"p":"C3","g":"Humanized","v":-1.85},{"p":"C3","g":"Humanized","v":-2.3},{"p":"C3","g":"Humanized","v":-2.45},{"p":"C3","g":"Humanized","v":-2.9},
{"p":"C3","g":"Human","v":1.5},{"p":"C3","g":"Human","v":1.45},{"p":"C3","g":"Human","v":1.3},{"p":"C3","g":"Human","v":1.2},{"p":"C3","g":"Human","v":1.05},{"p":"C3","g":"Human","v":0.9},{"p":"C3","g":"Human","v":0.8},{"p":"C3","g":"Human","v":0.7},{"p":"C3","g":"Human","v":0.55},{"p":"C3","g":"Human","v":0.4},{"p":"C3","g":"Human","v":0.2},{"p":"C3","g":"Human","v":0.0},{"p":"C3","g":"Human","v":-0.3},{"p":"C3","g":"Human","v":-0.75},
{"p":"D","g":"Mouse","v":65.8},{"p":"D","g":"Mouse","v":68.1},{"p":"D","g":"Mouse","v":69.2},{"p":"D","g":"Mouse","v":70.0},{"p":"D","g":"Mouse","v":70.8},{"p":"D","g":"Mouse","v":71.3},{"p":"D","g":"Mouse","v":71.8},{"p":"D","g":"Mouse","v":72.3},{"p":"D","g":"Mouse","v":72.8},{"p":"D","g":"Mouse","v":73.2},{"p":"D","g":"Mouse","v":73.6},{"p":"D","g":"Mouse","v":74.0},{"p":"D","g":"Mouse","v":74.4},{"p":"D","g":"Mouse","v":74.8},{"p":"D","g":"Mouse","v":75.1},{"p":"D","g":"Mouse","v":75.5},{"p":"D","g":"Mouse","v":75.8},{"p":"D","g":"Mouse","v":76.2},{"p":"D","g":"Mouse","v":76.6},{"p":"D","g":"Mouse","v":77.0},{"p":"D","g":"Mouse","v":77.4},{"p":"D","g":"Mouse","v":77.8},{"p":"D","g":"Mouse","v":78.3},{"p":"D","g":"Mouse","v":78.8},{"p":"D","g":"Mouse","v":79.3},{"p":"D","g":"Mouse","v":79.8},{"p":"D","g":"Mouse","v":80.6},{"p":"D","g":"Mouse","v":81.4},{"p":"D","g":"Mouse","v":82.5},{"p":"D","g":"Mouse","v":86.0},
{"p":"D","g":"Chimeric","v":70.5},{"p":"D","g":"Chimeric","v":70.8},{"p":"D","g":"Chimeric","v":71.0},{"p":"D","g":"Chimeric","v":71.3},{"p":"D","g":"Chimeric","v":72.0},{"p":"D","g":"Chimeric","v":73.5},{"p":"D","g":"Chimeric","v":75.0},{"p":"D","g":"Chimeric","v":76.0},{"p":"D","g":"Chimeric","v":77.5},{"p":"D","g":"Chimeric","v":78.5},{"p":"D","g":"Chimeric","v":80.0},{"p":"D","g":"Chimeric","v":80.5},{"p":"D","g":"Chimeric","v":83.0},{"p":"D","g":"Chimeric","v":84.0},
{"p":"D","g":"Humanized","v":84.0},{"p":"D","g":"Humanized","v":86.0},{"p":"D","g":"Humanized","v":87.5},{"p":"D","g":"Humanized","v":88.5},{"p":"D","g":"Humanized","v":89.3},{"p":"D","g":"Humanized","v":90.0},{"p":"D","g":"Humanized","v":90.6},{"p":"D","g":"Humanized","v":91.2},{"p":"D","g":"Humanized","v":91.7},{"p":"D","g":"Humanized","v":92.2},{"p":"D","g":"Humanized","v":92.6},{"p":"D","g":"Humanized","v":93.0},{"p":"D","g":"Humanized","v":93.4},{"p":"D","g":"Humanized","v":93.8},{"p":"D","g":"Humanized","v":94.2},{"p":"D","g":"Humanized","v":94.6},{"p":"D","g":"Humanized","v":95.0},{"p":"D","g":"Humanized","v":95.4},{"p":"D","g":"Humanized","v":95.8},{"p":"D","g":"Humanized","v":96.2},{"p":"D","g":"Humanized","v":96.6},{"p":"D","g":"Humanized","v":97.0},{"p":"D","g":"Humanized","v":97.4},{"p":"D","g":"Humanized","v":97.8},{"p":"D","g":"Humanized","v":98.2},{"p":"D","g":"Humanized","v":98.6},{"p":"D","g":"Humanized","v":98.9},{"p":"D","g":"Humanized","v":99.2},{"p":"D","g":"Humanized","v":99.4},{"p":"D","g":"Humanized","v":99.6},
{"p":"D","g":"Human","v":93.0},{"p":"D","g":"Human","v":94.5},{"p":"D","g":"Human","v":95.2},{"p":"D","g":"Human","v":95.6},{"p":"D","g":"Human","v":96.0},{"p":"D","g":"Human","v":96.3},{"p":"D","g":"Human","v":96.6},{"p":"D","g":"Human","v":96.9},{"p":"D","g":"Human","v":97.2},{"p":"D","g":"Human","v":97.6},{"p":"D","g":"Human","v":98.0},{"p":"D","g":"Human","v":98.5},{"p":"D","g":"Human","v":99.0},{"p":"D","g":"Human","v":99.5},
{"p":"E","g":"Mouse","v":63.3},{"p":"E","g":"Mouse","v":66.4},{"p":"E","g":"Mouse","v":67.5},{"p":"E","g":"Mouse","v":68.4},{"p":"E","g":"Mouse","v":69.1},{"p":"E","g":"Mouse","v":69.7},{"p":"E","g":"Mouse","v":70.2},{"p":"E","g":"Mouse","v":70.7},{"p":"E","g":"Mouse","v":71.2},{"p":"E","g":"Mouse","v":71.6},{"p":"E","g":"Mouse","v":72.1},{"p":"E","g":"Mouse","v":72.5},{"p":"E","g":"Mouse","v":72.8},{"p":"E","g":"Mouse","v":73.2},{"p":"E","g":"Mouse","v":73.6},{"p":"E","g":"Mouse","v":74.0},{"p":"E","g":"Mouse","v":74.4},{"p":"E","g":"Mouse","v":74.8},{"p":"E","g":"Mouse","v":75.1},{"p":"E","g":"Mouse","v":75.5},{"p":"E","g":"Mouse","v":76.0},{"p":"E","g":"Mouse","v":76.4},{"p":"E","g":"Mouse","v":76.9},{"p":"E","g":"Mouse","v":77.4},{"p":"E","g":"Mouse","v":77.9},{"p":"E","g":"Mouse","v":78.5},{"p":"E","g":"Mouse","v":79.2},{"p":"E","g":"Mouse","v":80.1},{"p":"E","g":"Mouse","v":81.2},{"p":"E","g":"Mouse","v":84.5},
{"p":"E","g":"Chimeric","v":66.0},{"p":"E","g":"Chimeric","v":67.0},{"p":"E","g":"Chimeric","v":68.0},{"p":"E","g":"Chimeric","v":69.0},{"p":"E","g":"Chimeric","v":69.8},{"p":"E","g":"Chimeric","v":70.4},{"p":"E","g":"Chimeric","v":71.0},{"p":"E","g":"Chimeric","v":71.5},{"p":"E","g":"Chimeric","v":72.0},{"p":"E","g":"Chimeric","v":72.6},{"p":"E","g":"Chimeric","v":73.4},{"p":"E","g":"Chimeric","v":74.5},{"p":"E","g":"Chimeric","v":75.8},{"p":"E","g":"Chimeric","v":78.5},
{"p":"E","g":"Humanized","v":84.0},{"p":"E","g":"Humanized","v":86.0},{"p":"E","g":"Humanized","v":90.5},{"p":"E","g":"Humanized","v":91.5},{"p":"E","g":"Humanized","v":92.2},{"p":"E","g":"Humanized","v":92.8},{"p":"E","g":"Humanized","v":93.3},{"p":"E","g":"Humanized","v":93.7},{"p":"E","g":"Humanized","v":94.1},{"p":"E","g":"Humanized","v":94.4},{"p":"E","g":"Humanized","v":94.7},{"p":"E","g":"Humanized","v":95.0},{"p":"E","g":"Humanized","v":95.3},{"p":"E","g":"Humanized","v":95.6},{"p":"E","g":"Humanized","v":95.9},{"p":"E","g":"Humanized","v":96.2},{"p":"E","g":"Humanized","v":96.4},{"p":"E","g":"Humanized","v":96.7},{"p":"E","g":"Humanized","v":96.9},{"p":"E","g":"Humanized","v":97.1},{"p":"E","g":"Humanized","v":97.4},{"p":"E","g":"Humanized","v":97.6},{"p":"E","g":"Humanized","v":97.8},{"p":"E","g":"Humanized","v":98.0},{"p":"E","g":"Humanized","v":98.2},{"p":"E","g":"Humanized","v":98.4},{"p":"E","g":"Humanized","v":98.6},{"p":"E","g":"Humanized","v":98.8},{"p":"E","g":"Humanized","v":99.0},{"p":"E","g":"Humanized","v":99.2},
{"p":"E","g":"Human","v":92.0},{"p":"E","g":"Human","v":95.0},{"p":"E","g":"Human","v":95.6},{"p":"E","g":"Human","v":96.0},{"p":"E","g":"Human","v":96.4},{"p":"E","g":"Human","v":96.8},{"p":"E","g":"Human","v":97.1},{"p":"E","g":"Human","v":97.4},{"p":"E","g":"Human","v":97.7},{"p":"E","g":"Human","v":98.0},{"p":"E","g":"Human","v":98.3},{"p":"E","g":"Human","v":98.7},{"p":"E","g":"Human","v":99.2},{"p":"E","g":"Human","v":99.7}]
},
"spacing":-2,
"vconcat":[
{"hconcat":[
{"width":106,"height":124,"layer":[
{"data":{"name":"ref"},"transform":[{"filter":"datum.p=='A1'"}],"mark":{"type":"rule","color":"#808080","strokeDash":[4,3],"strokeWidth":1.2},"encoding":{"y":{"field":"y","type":"quantitative"}}},
{"data":{"name":"pairs"},"transform":[{"filter":"datum.p=='A1'"},{"calculate":"datum.g=='Mouse'?1:2","as":"gi"}],"layer":[
{"mark":{"type":"line","color":"#111","strokeWidth":0.7},"encoding":{"x":{"field":"gi","type":"quantitative"},"y":{"field":"v","type":"quantitative"},"detail":{"field":"id","type":"nominal"}}},
{"mark":{"type":"circle","color":"#000","size":10,"opacity":1},"encoding":{"x":{"field":"gi","type":"quantitative","scale":{"domain":[0.667,2.433],"nice":false,"zero":false},"axis":{"values":[1,2],"tickCount":12,"labelExpr":"datum.value==1?'Mouse':'Humanized'"},"title":null},"y":{"field":"v","type":"quantitative","scale":{"domain":[50,100],"nice":false,"zero":false},"axis":{"values":[50,60,70,80,90,100],"tickCount":12,"format":"d"},"title":"T20 score"}}}]},
{"data":{"name":"ico"},"transform":[{"filter":"datum.c=='HF'"},{"calculate":"1.803+datum.i*0.088","as":"a"},{"calculate":"datum.a+0.088","as":"b"}],"mark":{"type":"rect","stroke":"#4a4a4a","strokeWidth":0.6},"encoding":{"x":{"field":"a","type":"quantitative"},"x2":{"field":"b"},"y":{"datum":57.7,"type":"quantitative"},"y2":{"datum":55.4},"color":{"field":"k","type":"nominal","scale":{"domain":["HFR","LFR","CDR"],"range":["#1c8cf0","#f5a21c","#c44cb4"]},"legend":null}}},
{"data":{"values":[{}]},"mark":{"type":"text","text":"Heavy chain full-length","fontSize":8,"align":"right","baseline":"middle","color":"#111"},"encoding":{"x":{"datum":2.42,"type":"quantitative"},"y":{"datum":52.9,"type":"quantitative"}}},
{"data":{"values":[{}]},"mark":{"type":"text","text":"A","fontSize":15,"align":"left","baseline":"top","color":"#000"},"encoding":{"x":{"datum":0.15,"type":"quantitative"},"y":{"datum":105.6,"type":"quantitative"}}}]},
{"width":106,"height":124,"layer":[
{"data":{"name":"ref"},"transform":[{"filter":"datum.p=='A2'"}],"mark":{"type":"rule","color":"#808080","strokeDash":[4,3],"strokeWidth":1.2},"encoding":{"y":{"field":"y","type":"quantitative"}}},
{"data":{"name":"pairs"},"transform":[{"filter":"datum.p=='A2'"},{"calculate":"datum.g=='Mouse'?1:2","as":"gi"}],"layer":[
{"mark":{"type":"line","color":"#111","strokeWidth":0.7},"encoding":{"x":{"field":"gi","type":"quantitative"},"y":{"field":"v","type":"quantitative"},"detail":{"field":"id","type":"nominal"}}},
{"mark":{"type":"circle","color":"#000","size":10,"opacity":1},"encoding":{"x":{"field":"gi","type":"quantitative","scale":{"domain":[0.667,2.433],"nice":false,"zero":false},"axis":{"values":[1,2],"tickCount":12,"labelExpr":"datum.value==1?'Mouse':'Humanized'"},"title":null},"y":{"field":"v","type":"quantitative","scale":{"domain":[50,100],"nice":false,"zero":false},"axis":{"values":[50,60,70,80,90,100],"tickCount":12,"format":"d"},"title":"T20 score"}}}]},
{"data":{"name":"ico"},"transform":[{"filter":"datum.c=='HO'"},{"calculate":"2.003+datum.i*0.104","as":"a"},{"calculate":"datum.a+0.104","as":"b"}],"mark":{"type":"rect","stroke":"#4a4a4a","strokeWidth":0.6},"encoding":{"x":{"field":"a","type":"quantitative"},"x2":{"field":"b"},"y":{"datum":57.7,"type":"quantitative"},"y2":{"datum":55.4},"color":{"field":"k","type":"nominal","scale":{"domain":["HFR","LFR","CDR"],"range":["#1c8cf0","#f5a21c","#c44cb4"]},"legend":null}}},
{"data":{"values":[{}]},"mark":{"type":"text","text":"Heavy chain framework only","fontSize":8,"align":"right","baseline":"middle","color":"#111"},"encoding":{"x":{"datum":2.42,"type":"quantitative"},"y":{"datum":52.9,"type":"quantitative"}}}]},
{"width":106,"height":124,"layer":[
{"data":{"name":"ref"},"transform":[{"filter":"datum.p=='A3'"}],"mark":{"type":"rule","color":"#808080","strokeDash":[4,3],"strokeWidth":1.2},"encoding":{"y":{"field":"y","type":"quantitative"}}},
{"data":{"name":"pairs"},"transform":[{"filter":"datum.p=='A3'"},{"calculate":"datum.g=='Mouse'?1:2","as":"gi"}],"layer":[
{"mark":{"type":"line","color":"#111","strokeWidth":0.7},"encoding":{"x":{"field":"gi","type":"quantitative"},"y":{"field":"v","type":"quantitative"},"detail":{"field":"id","type":"nominal"}}},
{"mark":{"type":"circle","color":"#000","size":10,"opacity":1},"encoding":{"x":{"field":"gi","type":"quantitative","scale":{"domain":[0.667,2.433],"nice":false,"zero":false},"axis":{"values":[1,2],"tickCount":12,"labelExpr":"datum.value==1?'Mouse':'Humanized'"},"title":null},"y":{"field":"v","type":"quantitative","scale":{"domain":[50,100],"nice":false,"zero":false},"axis":{"values":[50,60,70,80,90,100],"tickCount":12,"format":"d"},"title":"T20 score"}}}]},
{"data":{"name":"ico"},"transform":[{"filter":"datum.c=='LF'"},{"calculate":"1.803+datum.i*0.088","as":"a"},{"calculate":"datum.a+0.088","as":"b"}],"mark":{"type":"rect","stroke":"#4a4a4a","strokeWidth":0.6},"encoding":{"x":{"field":"a","type":"quantitative"},"x2":{"field":"b"},"y":{"datum":57.7,"type":"quantitative"},"y2":{"datum":55.4},"color":{"field":"k","type":"nominal","scale":{"domain":["HFR","LFR","CDR"],"range":["#1c8cf0","#f5a21c","#c44cb4"]},"legend":null}}},
{"data":{"values":[{}]},"mark":{"type":"text","text":"Light chain full-length","fontSize":8,"align":"right","baseline":"middle","color":"#111"},"encoding":{"x":{"datum":2.42,"type":"quantitative"},"y":{"datum":52.9,"type":"quantitative"}}}]},
{"width":106,"height":124,"layer":[
{"data":{"name":"ref"},"transform":[{"filter":"datum.p=='A4'"}],"mark":{"type":"rule","color":"#808080","strokeDash":[4,3],"strokeWidth":1.2},"encoding":{"y":{"field":"y","type":"quantitative"}}},
{"data":{"name":"pairs"},"transform":[{"filter":"datum.p=='A4'"},{"calculate":"datum.g=='Mouse'?1:2","as":"gi"}],"layer":[
{"mark":{"type":"line","color":"#111","strokeWidth":0.7},"encoding":{"x":{"field":"gi","type":"quantitative"},"y":{"field":"v","type":"quantitative"},"detail":{"field":"id","type":"nominal"}}},
{"mark":{"type":"circle","color":"#000","size":10,"opacity":1},"encoding":{"x":{"field":"gi","type":"quantitative","scale":{"domain":[0.667,2.433],"nice":false,"zero":false},"axis":{"values":[1,2],"tickCount":12,"labelExpr":"datum.value==1?'Mouse':'Humanized'"},"title":null},"y":{"field":"v","type":"quantitative","scale":{"domain":[50,100],"nice":false,"zero":false},"axis":{"values":[50,60,70,80,90,100],"tickCount":12,"format":"d"},"title":"T20 score"}}}]},
{"data":{"name":"ico"},"transform":[{"filter":"datum.c=='LO'"},{"calculate":"2.003+datum.i*0.104","as":"a"},{"calculate":"datum.a+0.104","as":"b"}],"mark":{"type":"rect","stroke":"#4a4a4a","strokeWidth":0.6},"encoding":{"x":{"field":"a","type":"quantitative"},"x2":{"field":"b"},"y":{"datum":57.7,"type":"quantitative"},"y2":{"datum":55.4},"color":{"field":"k","type":"nominal","scale":{"domain":["HFR","LFR","CDR"],"range":["#1c8cf0","#f5a21c","#c44cb4"]},"legend":null}}},
{"data":{"values":[{}]},"mark":{"type":"text","text":"Light chain framework only","fontSize":8,"align":"right","baseline":"middle","color":"#111"},"encoding":{"x":{"datum":2.42,"type":"quantitative"},"y":{"datum":52.9,"type":"quantitative"}}}]}
],"spacing":42,"bounds":"flush"},
{"hconcat":[
{"vconcat":[
{"width":160,"height":105,"layer":[
{"data":{"values":[{}]},"mark":{"type":"rect","filled":false,"stroke":"#6b6b6b","strokeWidth":1},"encoding":{"x":{"datum":-0.25,"type":"quantitative"},"x2":{"datum":4.525},"y":{"datum":109.5,"type":"quantitative"},"y2":{"datum":-133.8}}},
{"data":{"values":[{}]},"mark":{"type":"text","text":"B","fontSize":15,"align":"left","baseline":"top","color":"#000"},"encoding":{"x":{"datum":-0.225,"type":"quantitative"},"y":{"datum":123.4,"type":"quantitative"}}},
{"data":{"name":"ico"},"transform":[{"filter":"datum.c=='HF'"},{"calculate":"0.25+datum.i*0.132","as":"a"},{"calculate":"datum.a+0.132","as":"b"}],"mark":{"type":"rect","stroke":"#4a4a4a","strokeWidth":0.6},"encoding":{"x":{"field":"a","type":"quantitative"},"x2":{"field":"b"},"y":{"datum":115.7,"type":"quantitative"},"y2":{"datum":112.9},"color":{"field":"k","type":"nominal","scale":{"domain":["HFR","LFR","CDR"],"range":["#1c8cf0","#f5a21c","#c44cb4"]},"legend":null}}},
{"data":{"values":[{}]},"mark":{"type":"text","text":"Heavy chain full-length","fontSize":10,"fontWeight":"bold","align":"left","baseline":"middle","color":"#000"},"encoding":{"x":{"datum":1.3,"type":"quantitative"},"y":{"datum":114.3,"type":"quantitative"}}},
{"data":{"name":"ref"},"transform":[{"filter":"datum.p=='B1'"}],"mark":{"type":"rule","color":"#808080","strokeDash":[4,3],"strokeWidth":1.2},"encoding":{"y":{"field":"y","type":"quantitative"}}},
{"data":{"name":"br"},"transform":[{"filter":"datum.p=='B1'"}],"mark":{"type":"rule","color":"#3d3df0","strokeWidth":1.2},"encoding":{"x":{"field":"x","type":"quantitative"},"x2":{"field":"x2"},"y":{"field":"y","type":"quantitative"},"y2":{"field":"y2"}}},
{"data":{"name":"pl"},"transform":[{"filter":"datum.p=='B1'"}],"mark":{"type":"text","fontSize":6.5,"color":"#333"},"encoding":{"x":{"field":"x","type":"quantitative"},"y":{"field":"y","type":"quantitative"},"text":{"field":"t"}}},
{"data":{"name":"pts"},"transform":[{"filter":"datum.p=='B1'"},{"calculate":"indexof(['Mouse','Chimeric','Humanized','Human'],datum.g)+1","as":"gi"},{"window":[{"op":"row_number","as":"rn"}],"sort":[{"field":"v"}],"groupby":["g"]},{"calculate":"datum.gi+[0,0.2,-0.2,0.1,-0.3,0.3,-0.1][datum.rn%7]","as":"xj"}],"mark":{"type":"circle","color":"#000","size":15,"opacity":1},"encoding":{"x":{"field":"xj","type":"quantitative","scale":{"domain":[0.5,4.5],"nice":false,"zero":false},"axis":{"values":[1,2,3,4],"tickCount":12,"labelExpr":"['','Mouse','Chimeric','Humanized','Human'][datum.value]"},"title":null},"y":{"field":"v","type":"quantitative","scale":{"domain":[50,100],"nice":false,"zero":false},"axis":{"values":[50,60,70,80,90,100],"tickCount":12,"format":"d"},"title":"T20 score"}}},
{"data":{"name":"pts"},"transform":[{"filter":"datum.p=='B1'"},{"aggregate":[{"op":"mean","field":"v","as":"m"},{"op":"stdev","field":"v","as":"s"}],"groupby":["g"]},{"calculate":"indexof(['Mouse','Chimeric','Humanized','Human'],datum.g)+1","as":"gi"},{"calculate":"datum.m-datum.s","as":"lo"},{"calculate":"datum.m+datum.s","as":"hi"},{"calculate":"datum.gi-0.24","as":"cl"},{"calculate":"datum.gi+0.24","as":"cr"},{"calculate":"datum.gi-0.38","as":"ml"},{"calculate":"datum.gi+0.38","as":"mr"}],"layer":[
{"mark":{"type":"rule","color":"#ee1c25","strokeWidth":1.3},"encoding":{"x":{"field":"gi","type":"quantitative"},"y":{"field":"lo","type":"quantitative"},"y2":{"field":"hi"}}},
{"mark":{"type":"rule","color":"#ee1c25","strokeWidth":1.3},"encoding":{"x":{"field":"cl","type":"quantitative"},"x2":{"field":"cr"},"y":{"field":"hi","type":"quantitative"}}},
{"mark":{"type":"rule","color":"#ee1c25","strokeWidth":1.3},"encoding":{"x":{"field":"cl","type":"quantitative"},"x2":{"field":"cr"},"y":{"field":"lo","type":"quantitative"}}},
{"mark":{"type":"rule","color":"#ee1c25","strokeWidth":3},"encoding":{"x":{"field":"ml","type":"quantitative"},"x2":{"field":"mr"},"y":{"field":"m","type":"quantitative"}}}]}]},
{"width":160,"height":105,"layer":[
{"data":{"name":"br"},"transform":[{"filter":"datum.p=='B2'"}],"mark":{"type":"rule","color":"#3d3df0","strokeWidth":1.2},"encoding":{"x":{"field":"x","type":"quantitative"},"x2":{"field":"x2"},"y":{"field":"y","type":"quantitative"},"y2":{"field":"y2"}}},
{"data":{"name":"pl"},"transform":[{"filter":"datum.p=='B2'"}],"mark":{"type":"text","fontSize":6.5,"color":"#333"},"encoding":{"x":{"field":"x","type":"quantitative"},"y":{"field":"y","type":"quantitative"},"text":{"field":"t"}}},
{"data":{"name":"pts"},"transform":[{"filter":"datum.p=='B2'"},{"calculate":"indexof(['Mouse','Chimeric','Humanized','Human'],datum.g)+1","as":"gi"},{"window":[{"op":"row_number","as":"rn"}],"sort":[{"field":"v"}],"groupby":["g"]},{"calculate":"datum.gi+[0,0.2,-0.2,0.1,-0.3,0.3,-0.1][datum.rn%7]","as":"xj"}],"mark":{"type":"circle","color":"#000","size":15,"opacity":1},"encoding":{"x":{"field":"xj","type":"quantitative","scale":{"domain":[0.5,4.5],"nice":false,"zero":false},"axis":{"values":[1,2,3,4],"tickCount":12,"labelExpr":"['','Mouse','Chimeric','Humanized','Human'][datum.value]"},"title":null},"y":{"field":"v","type":"quantitative","scale":{"domain":[-5,2],"nice":false,"zero":false},"axis":{"values":[-4,-2,0,2],"tickCount":12,"format":"d"},"title":"H-score"}}},
{"data":{"name":"pts"},"transform":[{"filter":"datum.p=='B2'"},{"aggregate":[{"op":"mean","field":"v","as":"m"},{"op":"stdev","field":"v","as":"s"}],"groupby":["g"]},{"calculate":"indexof(['Mouse','Chimeric','Humanized','Human'],datum.g)+1","as":"gi"},{"calculate":"datum.m-datum.s","as":"lo"},{"calculate":"datum.m+datum.s","as":"hi"},{"calculate":"datum.gi-0.24","as":"cl"},{"calculate":"datum.gi+0.24","as":"cr"},{"calculate":"datum.gi-0.38","as":"ml"},{"calculate":"datum.gi+0.38","as":"mr"}],"layer":[
{"mark":{"type":"rule","color":"#ee1c25","strokeWidth":1.3},"encoding":{"x":{"field":"gi","type":"quantitative"},"y":{"field":"lo","type":"quantitative"},"y2":{"field":"hi"}}},
{"mark":{"type":"rule","color":"#ee1c25","strokeWidth":1.3},"encoding":{"x":{"field":"cl","type":"quantitative"},"x2":{"field":"cr"},"y":{"field":"hi","type":"quantitative"}}},
{"mark":{"type":"rule","color":"#ee1c25","strokeWidth":1.3},"encoding":{"x":{"field":"cl","type":"quantitative"},"x2":{"field":"cr"},"y":{"field":"lo","type":"quantitative"}}},
{"mark":{"type":"rule","color":"#ee1c25","strokeWidth":3},"encoding":{"x":{"field":"ml","type":"quantitative"},"x2":{"field":"mr"},"y":{"field":"m","type":"quantitative"}}}]}]},
{"width":160,"height":105,"layer":[
{"data":{"name":"br"},"transform":[{"filter":"datum.p=='B3'"}],"mark":{"type":"rule","color":"#3d3df0","strokeWidth":1.2},"encoding":{"x":{"field":"x","type":"quantitative"},"x2":{"field":"x2"},"y":{"field":"y","type":"quantitative"},"y2":{"field":"y2"}}},
{"data":{"name":"pl"},"transform":[{"filter":"datum.p=='B3'"}],"mark":{"type":"text","fontSize":6.5,"color":"#333"},"encoding":{"x":{"field":"x","type":"quantitative"},"y":{"field":"y","type":"quantitative"},"text":{"field":"t"}}},
{"data":{"name":"pts"},"transform":[{"filter":"datum.p=='B3'"},{"calculate":"indexof(['Mouse','Chimeric','Humanized','Human'],datum.g)+1","as":"gi"},{"window":[{"op":"row_number","as":"rn"}],"sort":[{"field":"v"}],"groupby":["g"]},{"calculate":"datum.gi+[0,0.2,-0.2,0.1,-0.3,0.3,-0.1][datum.rn%7]","as":"xj"}],"mark":{"type":"circle","color":"#000","size":15,"opacity":1},"encoding":{"x":{"field":"xj","type":"quantitative","scale":{"domain":[0.5,4.5],"nice":false,"zero":false},"axis":{"values":[1,2,3,4],"tickCount":12,"labelExpr":"['','Mouse','Chimeric','Humanized','Human'][datum.value]"},"title":null},"y":{"field":"v","type":"quantitative","scale":{"domain":[-5,2],"nice":false,"zero":false},"axis":{"values":[-4,-2,0,2],"tickCount":12,"format":"d"},"title":"G-score"}}},
{"data":{"name":"pts"},"transform":[{"filter":"datum.p=='B3'"},{"aggregate":[{"op":"mean","field":"v","as":"m"},{"op":"stdev","field":"v","as":"s"}],"groupby":["g"]},{"calculate":"indexof(['Mouse','Chimeric','Humanized','Human'],datum.g)+1","as":"gi"},{"calculate":"datum.m-datum.s","as":"lo"},{"calculate":"datum.m+datum.s","as":"hi"},{"calculate":"datum.gi-0.24","as":"cl"},{"calculate":"datum.gi+0.24","as":"cr"},{"calculate":"datum.gi-0.38","as":"ml"},{"calculate":"datum.gi+0.38","as":"mr"}],"layer":[
{"mark":{"type":"rule","color":"#ee1c25","strokeWidth":1.3},"encoding":{"x":{"field":"gi","type":"quantitative"},"y":{"field":"lo","type":"quantitative"},"y2":{"field":"hi"}}},
{"mark":{"type":"rule","color":"#ee1c25","strokeWidth":1.3},"encoding":{"x":{"field":"cl","type":"quantitative"},"x2":{"field":"cr"},"y":{"field":"hi","type":"quantitative"}}},
{"mark":{"type":"rule","color":"#ee1c25","strokeWidth":1.3},"encoding":{"x":{"field":"cl","type":"quantitative"},"x2":{"field":"cr"},"y":{"field":"lo","type":"quantitative"}}},
{"mark":{"type":"rule","color":"#ee1c25","strokeWidth":3},"encoding":{"x":{"field":"ml","type":"quantitative"},"x2":{"field":"mr"},"y":{"field":"m","type":"quantitative"}}}]}]}
],"spacing":67,"bounds":"flush"},
{"vconcat":[
{"width":160,"height":105,"layer":[
{"data":{"values":[{}]},"mark":{"type":"rect","filled":false,"stroke":"#6b6b6b","strokeWidth":1},"encoding":{"x":{"datum":-0.15,"type":"quantitative"},"x2":{"datum":4.65},"y":{"datum":109.5,"type":"quantitative"},"y2":{"datum":-133.8}}},
{"data":{"values":[{}]},"mark":{"type":"text","text":"C","fontSize":15,"align":"left","baseline":"top","color":"#000"},"encoding":{"x":{"datum":-0.25,"type":"quantitative"},"y":{"datum":123.4,"type":"quantitative"}}},
{"data":{"name":"ico"},"transform":[{"filter":"datum.c=='LF'"},{"calculate":"0.425+datum.i*0.132","as":"a"},{"calculate":"datum.a+0.132","as":"b"}],"mark":{"type":"rect","stroke":"#4a4a4a","strokeWidth":0.6},"encoding":{"x":{"field":"a","type":"quantitative"},"x2":{"field":"b"},"y":{"datum":115.7,"type":"quantitative"},"y2":{"datum":112.9},"color":{"field":"k","type":"nominal","scale":{"domain":["HFR","LFR","CDR"],"range":["#1c8cf0","#f5a21c","#c44cb4"]},"legend":null}}},
{"data":{"values":[{}]},"mark":{"type":"text","text":"Light chain full-length","fontSize":10,"fontWeight":"bold","align":"left","baseline":"middle","color":"#000"},"encoding":{"x":{"datum":1.45,"type":"quantitative"},"y":{"datum":114.3,"type":"quantitative"}}},
{"data":{"name":"ref"},"transform":[{"filter":"datum.p=='C1'"}],"mark":{"type":"rule","color":"#808080","strokeDash":[4,3],"strokeWidth":1.2},"encoding":{"y":{"field":"y","type":"quantitative"}}},
{"data":{"name":"br"},"transform":[{"filter":"datum.p=='C1'"}],"mark":{"type":"rule","color":"#3d3df0","strokeWidth":1.2},"encoding":{"x":{"field":"x","type":"quantitative"},"x2":{"field":"x2"},"y":{"field":"y","type":"quantitative"},"y2":{"field":"y2"}}},
{"data":{"name":"pl"},"transform":[{"filter":"datum.p=='C1'"}],"mark":{"type":"text","fontSize":6.5,"color":"#333"},"encoding":{"x":{"field":"x","type":"quantitative"},"y":{"field":"y","type":"quantitative"},"text":{"field":"t"}}},
{"data":{"name":"pts"},"transform":[{"filter":"datum.p=='C1'"},{"calculate":"indexof(['Mouse','Chimeric','Humanized','Human'],datum.g)+1","as":"gi"},{"window":[{"op":"row_number","as":"rn"}],"sort":[{"field":"v"}],"groupby":["g"]},{"calculate":"datum.gi+[0,0.2,-0.2,0.1,-0.3,0.3,-0.1][datum.rn%7]","as":"xj"}],"mark":{"type":"circle","color":"#000","size":15,"opacity":1},"encoding":{"x":{"field":"xj","type":"quantitative","scale":{"domain":[0.5,4.5],"nice":false,"zero":false},"axis":{"values":[1,2,3,4],"tickCount":12,"labelExpr":"['','Mouse','Chimeric','Humanized','Human'][datum.value]"},"title":null},"y":{"field":"v","type":"quantitative","scale":{"domain":[50,100],"nice":false,"zero":false},"axis":{"values":[50,60,70,80,90,100],"tickCount":12,"format":"d"},"title":"T20 score"}}},
{"data":{"name":"pts"},"transform":[{"filter":"datum.p=='C1'"},{"aggregate":[{"op":"mean","field":"v","as":"m"},{"op":"stdev","field":"v","as":"s"}],"groupby":["g"]},{"calculate":"indexof(['Mouse','Chimeric','Humanized','Human'],datum.g)+1","as":"gi"},{"calculate":"datum.m-datum.s","as":"lo"},{"calculate":"datum.m+datum.s","as":"hi"},{"calculate":"datum.gi-0.24","as":"cl"},{"calculate":"datum.gi+0.24","as":"cr"},{"calculate":"datum.gi-0.38","as":"ml"},{"calculate":"datum.gi+0.38","as":"mr"}],"layer":[
{"mark":{"type":"rule","color":"#ee1c25","strokeWidth":1.3},"encoding":{"x":{"field":"gi","type":"quantitative"},"y":{"field":"lo","type":"quantitative"},"y2":{"field":"hi"}}},
{"mark":{"type":"rule","color":"#ee1c25","strokeWidth":1.3},"encoding":{"x":{"field":"cl","type":"quantitative"},"x2":{"field":"cr"},"y":{"field":"hi","type":"quantitative"}}},
{"mark":{"type":"rule","color":"#ee1c25","strokeWidth":1.3},"encoding":{"x":{"field":"cl","type":"quantitative"},"x2":{"field":"cr"},"y":{"field":"lo","type":"quantitative"}}},
{"mark":{"type":"rule","color":"#ee1c25","strokeWidth":3},"encoding":{"x":{"field":"ml","type":"quantitative"},"x2":{"field":"mr"},"y":{"field":"m","type":"quantitative"}}}]}]},
{"width":160,"height":105,"layer":[
{"data":{"name":"br"},"transform":[{"filter":"datum.p=='C2'"}],"mark":{"type":"rule","color":"#3d3df0","strokeWidth":1.2},"encoding":{"x":{"field":"x","type":"quantitative"},"x2":{"field":"x2"},"y":{"field":"y","type":"quantitative"},"y2":{"field":"y2"}}},
{"data":{"name":"pl"},"transform":[{"filter":"datum.p=='C2'"}],"mark":{"type":"text","fontSize":6.5,"color":"#333"},"encoding":{"x":{"field":"x","type":"quantitative"},"y":{"field":"y","type":"quantitative"},"text":{"field":"t"}}},
{"data":{"name":"pts"},"transform":[{"filter":"datum.p=='C2'"},{"calculate":"indexof(['Mouse','Chimeric','Humanized','Human'],datum.g)+1","as":"gi"},{"window":[{"op":"row_number","as":"rn"}],"sort":[{"field":"v"}],"groupby":["g"]},{"calculate":"datum.gi+[0,0.2,-0.2,0.1,-0.3,0.3,-0.1][datum.rn%7]","as":"xj"}],"mark":{"type":"circle","color":"#000","size":15,"opacity":1},"encoding":{"x":{"field":"xj","type":"quantitative","scale":{"domain":[0.5,4.5],"nice":false,"zero":false},"axis":{"values":[1,2,3,4],"tickCount":12,"labelExpr":"['','Mouse','Chimeric','Humanized','Human'][datum.value]"},"title":null},"y":{"field":"v","type":"quantitative","scale":{"domain":[-5,2],"nice":false,"zero":false},"axis":{"values":[-4,-2,0,2],"tickCount":12,"format":"d"},"title":"H-score"}}},
{"data":{"name":"pts"},"transform":[{"filter":"datum.p=='C2'"},{"aggregate":[{"op":"mean","field":"v","as":"m"},{"op":"stdev","field":"v","as":"s"}],"groupby":["g"]},{"calculate":"indexof(['Mouse','Chimeric','Humanized','Human'],datum.g)+1","as":"gi"},{"calculate":"datum.m-datum.s","as":"lo"},{"calculate":"datum.m+datum.s","as":"hi"},{"calculate":"datum.gi-0.24","as":"cl"},{"calculate":"datum.gi+0.24","as":"cr"},{"calculate":"datum.gi-0.38","as":"ml"},{"calculate":"datum.gi+0.38","as":"mr"}],"layer":[
{"mark":{"type":"rule","color":"#ee1c25","strokeWidth":1.3},"encoding":{"x":{"field":"gi","type":"quantitative"},"y":{"field":"lo","type":"quantitative"},"y2":{"field":"hi"}}},
{"mark":{"type":"rule","color":"#ee1c25","strokeWidth":1.3},"encoding":{"x":{"field":"cl","type":"quantitative"},"x2":{"field":"cr"},"y":{"field":"hi","type":"quantitative"}}},
{"mark":{"type":"rule","color":"#ee1c25","strokeWidth":1.3},"encoding":{"x":{"field":"cl","type":"quantitative"},"x2":{"field":"cr"},"y":{"field":"lo","type":"quantitative"}}},
{"mark":{"type":"rule","color":"#ee1c25","strokeWidth":3},"encoding":{"x":{"field":"ml","type":"quantitative"},"x2":{"field":"mr"},"y":{"field":"m","type":"quantitative"}}}]}]},
{"width":160,"height":105,"layer":[
{"data":{"name":"br"},"transform":[{"filter":"datum.p=='C3'"}],"mark":{"type":"rule","color":"#3d3df0","strokeWidth":1.2},"encoding":{"x":{"field":"x","type":"quantitative"},"x2":{"field":"x2"},"y":{"field":"y","type":"quantitative"},"y2":{"field":"y2"}}},
{"data":{"name":"pl"},"transform":[{"filter":"datum.p=='C3'"}],"mark":{"type":"text","fontSize":6.5,"color":"#333"},"encoding":{"x":{"field":"x","type":"quantitative"},"y":{"field":"y","type":"quantitative"},"text":{"field":"t"}}},
{"data":{"name":"pts"},"transform":[{"filter":"datum.p=='C3'"},{"calculate":"indexof(['Mouse','Chimeric','Humanized','Human'],datum.g)+1","as":"gi"},{"window":[{"op":"row_number","as":"rn"}],"sort":[{"field":"v"}],"groupby":["g"]},{"calculate":"datum.gi+[0,0.2,-0.2,0.1,-0.3,0.3,-0.1][datum.rn%7]","as":"xj"}],"mark":{"type":"circle","color":"#000","size":15,"opacity":1},"encoding":{"x":{"field":"xj","type":"quantitative","scale":{"domain":[0.5,4.5],"nice":false,"zero":false},"axis":{"values":[1,2,3,4],"tickCount":12,"labelExpr":"['','Mouse','Chimeric','Humanized','Human'][datum.value]"},"title":null},"y":{"field":"v","type":"quantitative","scale":{"domain":[-5,2],"nice":false,"zero":false},"axis":{"values":[-4,-2,0,2],"tickCount":12,"format":"d"},"title":"G-score"}}},
{"data":{"name":"pts"},"transform":[{"filter":"datum.p=='C3'"},{"aggregate":[{"op":"mean","field":"v","as":"m"},{"op":"stdev","field":"v","as":"s"}],"groupby":["g"]},{"calculate":"indexof(['Mouse','Chimeric','Humanized','Human'],datum.g)+1","as":"gi"},{"calculate":"datum.m-datum.s","as":"lo"},{"calculate":"datum.m+datum.s","as":"hi"},{"calculate":"datum.gi-0.24","as":"cl"},{"calculate":"datum.gi+0.24","as":"cr"},{"calculate":"datum.gi-0.38","as":"ml"},{"calculate":"datum.gi+0.38","as":"mr"}],"layer":[
{"mark":{"type":"rule","color":"#ee1c25","strokeWidth":1.3},"encoding":{"x":{"field":"gi","type":"quantitative"},"y":{"field":"lo","type":"quantitative"},"y2":{"field":"hi"}}},
{"mark":{"type":"rule","color":"#ee1c25","strokeWidth":1.3},"encoding":{"x":{"field":"cl","type":"quantitative"},"x2":{"field":"cr"},"y":{"field":"hi","type":"quantitative"}}},
{"mark":{"type":"rule","color":"#ee1c25","strokeWidth":1.3},"encoding":{"x":{"field":"cl","type":"quantitative"},"x2":{"field":"cr"},"y":{"field":"lo","type":"quantitative"}}},
{"mark":{"type":"rule","color":"#ee1c25","strokeWidth":3},"encoding":{"x":{"field":"ml","type":"quantitative"},"x2":{"field":"mr"},"y":{"field":"m","type":"quantitative"}}}]}]}
],"spacing":67,"bounds":"flush"},
{"vconcat":[
{"width":158,"height":119,"layer":[
{"data":{"values":[{}]},"mark":{"type":"rule","color":"#000","strokeWidth":1.3},"encoding":{"x":{"datum":0.5,"type":"quantitative"},"y":{"datum":50,"type":"quantitative"},"y2":{"datum":100}}},
{"data":{"values":[{}]},"mark":{"type":"text","text":"D","fontSize":15,"align":"left","baseline":"top","color":"#000"},"encoding":{"x":{"datum":-0.45,"type":"quantitative"},"y":{"datum":130,"type":"quantitative"}}},
{"data":{"name":"ico"},"transform":[{"filter":"datum.c=='HO'"},{"calculate":"0.12+datum.i*0.165","as":"a"},{"calculate":"datum.a+0.165","as":"b"}],"mark":{"type":"rect","stroke":"#4a4a4a","strokeWidth":0.6},"encoding":{"x":{"field":"a","type":"quantitative"},"x2":{"field":"b"},"y":{"datum":122.4,"type":"quantitative"},"y2":{"datum":119.6},"color":{"field":"k","type":"nominal","scale":{"domain":["HFR","LFR","CDR"],"range":["#1c8cf0","#f5a21c","#c44cb4"]},"legend":null}}},
{"data":{"values":[{}]},"mark":{"type":"text","text":"Heavy chain framework only","fontSize":10,"fontWeight":"bold","align":"left","baseline":"middle","color":"#000"},"encoding":{"x":{"datum":0.88,"type":"quantitative"},"y":{"datum":121,"type":"quantitative"}}},
{"data":{"name":"ref"},"transform":[{"filter":"datum.p=='D'"}],"mark":{"type":"rule","color":"#808080","strokeDash":[4,3],"strokeWidth":1.2},"encoding":{"y":{"field":"y","type":"quantitative"}}},
{"data":{"name":"br"},"transform":[{"filter":"datum.p=='D'"}],"mark":{"type":"rule","color":"#3d3df0","strokeWidth":1.2},"encoding":{"x":{"field":"x","type":"quantitative"},"x2":{"field":"x2"},"y":{"field":"y","type":"quantitative"},"y2":{"field":"y2"}}},
{"data":{"name":"pl"},"transform":[{"filter":"datum.p=='D'"}],"mark":{"type":"text","fontSize":6.5,"color":"#333"},"encoding":{"x":{"field":"x","type":"quantitative"},"y":{"field":"y","type":"quantitative"},"text":{"field":"t"}}},
{"data":{"name":"pts"},"transform":[{"filter":"datum.p=='D'"},{"calculate":"indexof(['Mouse','Chimeric','Humanized','Human'],datum.g)+1","as":"gi"},{"window":[{"op":"row_number","as":"rn"}],"sort":[{"field":"v"}],"groupby":["g"]},{"calculate":"datum.gi+[0,0.2,-0.2,0.1,-0.3,0.3,-0.1][datum.rn%7]","as":"xj"}],"mark":{"type":"circle","color":"#000","size":15,"opacity":1},"encoding":{"x":{"field":"xj","type":"quantitative","scale":{"domain":[0.5,4.5],"nice":false,"zero":false},"axis":{"values":[1,2,3,4],"tickCount":12,"labelExpr":"['','Mouse','Chimeric','Humanized','Human'][datum.value]"},"title":null},"y":{"field":"v","type":"quantitative","scale":{"domain":[50,106.67],"nice":false,"zero":false},"axis":{"values":[50,60,70,80,90,100],"tickCount":12,"format":"d","domain":false},"title":"T20 score"}}},
{"data":{"name":"pts"},"transform":[{"filter":"datum.p=='D'"},{"aggregate":[{"op":"mean","field":"v","as":"m"},{"op":"stdev","field":"v","as":"s"}],"groupby":["g"]},{"calculate":"indexof(['Mouse','Chimeric','Humanized','Human'],datum.g)+1","as":"gi"},{"calculate":"datum.m-datum.s","as":"lo"},{"calculate":"datum.m+datum.s","as":"hi"},{"calculate":"datum.gi-0.24","as":"cl"},{"calculate":"datum.gi+0.24","as":"cr"},{"calculate":"datum.gi-0.38","as":"ml"},{"calculate":"datum.gi+0.38","as":"mr"}],"layer":[
{"mark":{"type":"rule","color":"#ee1c25","strokeWidth":1.3},"encoding":{"x":{"field":"gi","type":"quantitative"},"y":{"field":"lo","type":"quantitative"},"y2":{"field":"hi"}}},
{"mark":{"type":"rule","color":"#ee1c25","strokeWidth":1.3},"encoding":{"x":{"field":"cl","type":"quantitative"},"x2":{"field":"cr"},"y":{"field":"hi","type":"quantitative"}}},
{"mark":{"type":"rule","color":"#ee1c25","strokeWidth":1.3},"encoding":{"x":{"field":"cl","type":"quantitative"},"x2":{"field":"cr"},"y":{"field":"lo","type":"quantitative"}}},
{"mark":{"type":"rule","color":"#ee1c25","strokeWidth":3},"encoding":{"x":{"field":"ml","type":"quantitative"},"x2":{"field":"mr"},"y":{"field":"m","type":"quantitative"}}}]}]},
{"width":158,"height":105,"layer":[
{"data":{"values":[{}]},"mark":{"type":"text","text":"E","fontSize":15,"align":"left","baseline":"top","color":"#000"},"encoding":{"x":{"datum":-0.45,"type":"quantitative"},"y":{"datum":127.7,"type":"quantitative"}}},
{"data":{"name":"ico"},"transform":[{"filter":"datum.c=='LO'"},{"calculate":"0.196+datum.i*0.158","as":"a"},{"calculate":"datum.a+0.158","as":"b"}],"mark":{"type":"rect","stroke":"#4a4a4a","strokeWidth":0.6},"encoding":{"x":{"field":"a","type":"quantitative"},"x2":{"field":"b"},"y":{"datum":121.4,"type":"quantitative"},"y2":{"datum":118.6},"color":{"field":"k","type":"nominal","scale":{"domain":["HFR","LFR","CDR"],"range":["#1c8cf0","#f5a21c","#c44cb4"]},"legend":null}}},
{"data":{"values":[{}]},"mark":{"type":"text","text":"Light chain framework only","fontSize":10,"fontWeight":"bold","align":"left","baseline":"middle","color":"#000"},"encoding":{"x":{"datum":0.93,"type":"quantitative"},"y":{"datum":120,"type":"quantitative"}}},
{"data":{"name":"ref"},"transform":[{"filter":"datum.p=='E'"}],"mark":{"type":"rule","color":"#808080","strokeDash":[4,3],"strokeWidth":1.2},"encoding":{"y":{"field":"y","type":"quantitative"}}},
{"data":{"name":"br"},"transform":[{"filter":"datum.p=='E'"}],"mark":{"type":"rule","color":"#3d3df0","strokeWidth":1.2},"encoding":{"x":{"field":"x","type":"quantitative"},"x2":{"field":"x2"},"y":{"field":"y","type":"quantitative"},"y2":{"field":"y2"}}},
{"data":{"name":"pl"},"transform":[{"filter":"datum.p=='E'"}],"mark":{"type":"text","fontSize":6.5,"color":"#333"},"encoding":{"x":{"field":"x","type":"quantitative"},"y":{"field":"y","type":"quantitative"},"text":{"field":"t"}}},
{"data":{"name":"pts"},"transform":[{"filter":"datum.p=='E'"},{"calculate":"indexof(['Mouse','Chimeric','Humanized','Human'],datum.g)+1","as":"gi"},{"window":[{"op":"row_number","as":"rn"}],"sort":[{"field":"v"}],"groupby":["g"]},{"calculate":"datum.gi+[0,0.2,-0.2,0.1,-0.3,0.3,-0.1][datum.rn%7]","as":"xj"}],"mark":{"type":"circle","color":"#000","size":15,"opacity":1},"encoding":{"x":{"field":"xj","type":"quantitative","scale":{"domain":[0.5,4.5],"nice":false,"zero":false},"axis":{"values":[1,2,3,4],"tickCount":12,"labelExpr":"['','Mouse','Chimeric','Humanized','Human'][datum.value]"},"title":null},"y":{"field":"v","type":"quantitative","scale":{"domain":[50,100],"nice":false,"zero":false},"axis":{"values":[50,60,70,80,90,100],"tickCount":12,"format":"d"},"title":"T20 score"}}},
{"data":{"name":"pts"},"transform":[{"filter":"datum.p=='E'"},{"aggregate":[{"op":"mean","field":"v","as":"m"},{"op":"stdev","field":"v","as":"s"}],"groupby":["g"]},{"calculate":"indexof(['Mouse','Chimeric','Humanized','Human'],datum.g)+1","as":"gi"},{"calculate":"datum.m-datum.s","as":"lo"},{"calculate":"datum.m+datum.s","as":"hi"},{"calculate":"datum.gi-0.24","as":"cl"},{"calculate":"datum.gi+0.24","as":"cr"},{"calculate":"datum.gi-0.38","as":"ml"},{"calculate":"datum.gi+0.38","as":"mr"}],"layer":[
{"mark":{"type":"rule","color":"#ee1c25","strokeWidth":1.3},"encoding":{"x":{"field":"gi","type":"quantitative"},"y":{"field":"lo","type":"quantitative"},"y2":{"field":"hi"}}},
{"mark":{"type":"rule","color":"#ee1c25","strokeWidth":1.3},"encoding":{"x":{"field":"cl","type":"quantitative"},"x2":{"field":"cr"},"y":{"field":"hi","type":"quantitative"}}},
{"mark":{"type":"rule","color":"#ee1c25","strokeWidth":1.3},"encoding":{"x":{"field":"cl","type":"quantitative"},"x2":{"field":"cr"},"y":{"field":"lo","type":"quantitative"}}},
{"mark":{"type":"rule","color":"#ee1c25","strokeWidth":3},"encoding":{"x":{"field":"ml","type":"quantitative"},"x2":{"field":"mr"},"y":{"field":"m","type":"quantitative"}}}]}]}
],"spacing":106,"bounds":"flush"}
],"spacing":6}
],
"config":{
"view":{"stroke":null},
"font":"Liberation Sans",
"axis":{"grid":false,"domainColor":"#000","domainWidth":1.3,"tickColor":"#000","tickWidth":1.2,"tickSize":4,"labelFontSize":8,"labelColor":"#111","labelPadding":2,"labelOverlap":false,"labelFlush":false,"titleFontSize":8.5,"titleFontWeight":"normal","titleColor":"#111","titlePadding":2},
"axisX":{"labelAngle":-45},
"text":{"font":"Liberation Sans"}
}
}
